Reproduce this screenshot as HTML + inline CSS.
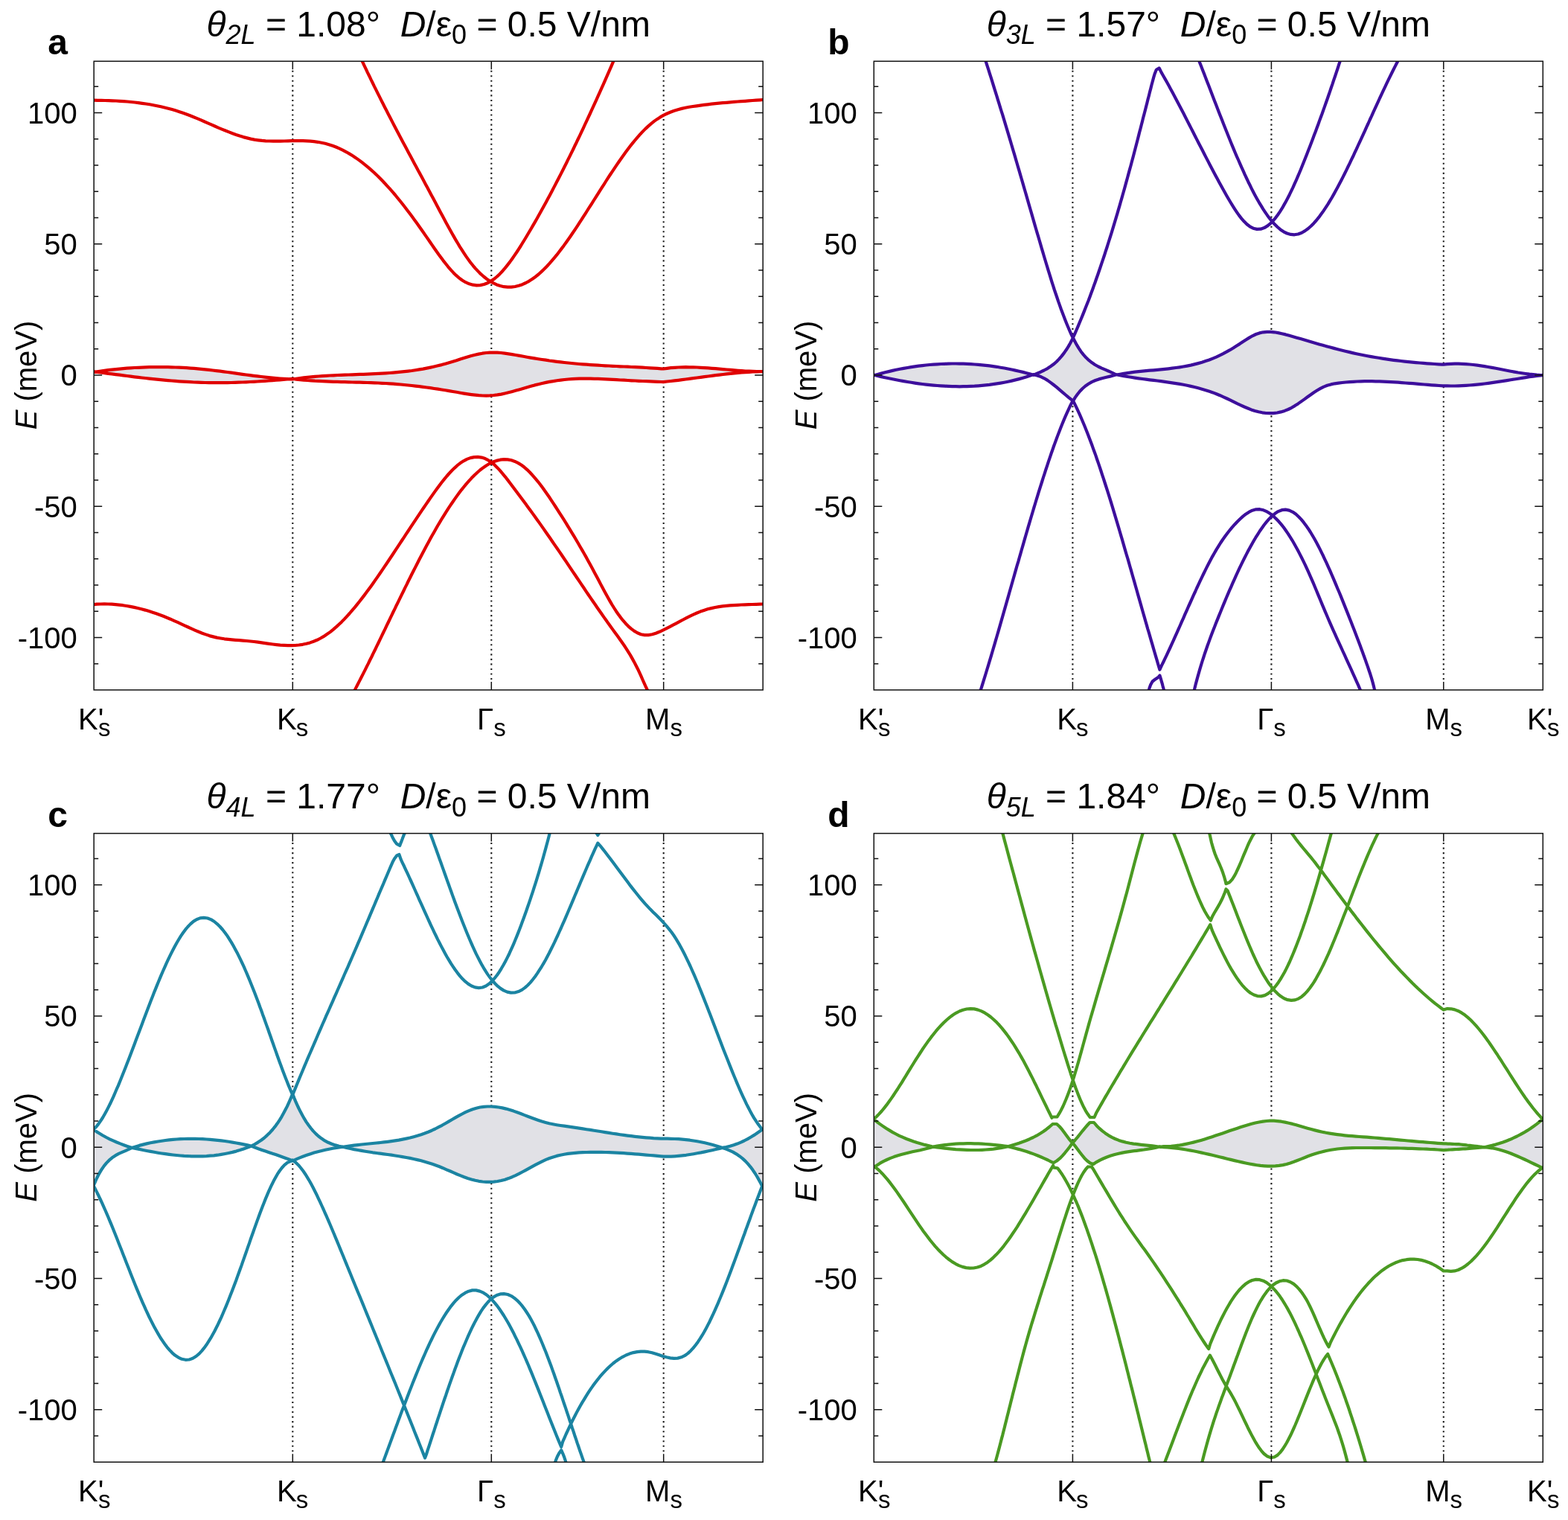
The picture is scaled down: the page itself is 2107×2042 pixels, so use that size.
<!DOCTYPE html>
<html><head><meta charset="utf-8"><title>Band structures</title>
<style>
html,body{margin:0;padding:0;background:#fff;}
body{width:2107px;height:2042px;overflow:hidden;}
svg{display:block;}
text{font-family:"Liberation Sans",Arial,sans-serif;fill:#000;}
.tl{font-size:40px;}
.tt{font-size:48px;}
.pl{font-size:48px;font-weight:bold;}
.xl{font-size:40px;}
</style></head><body>
<svg xmlns="http://www.w3.org/2000/svg" width="2107" height="2042" viewBox="0 0 2107 2042">
<rect width="2107" height="2042" fill="#fff"/>

<g>
<clipPath id="clipa"><rect x="126.2" y="82.3" width="899" height="844.6"/></clipPath>
<line x1="393.3" y1="94.7" x2="393.3" y2="915.9" stroke="#1a1a1a" stroke-width="2.1" stroke-dasharray="2.1 4.43"/>
<line x1="660.3" y1="94.7" x2="660.3" y2="915.9" stroke="#1a1a1a" stroke-width="2.1" stroke-dasharray="2.1 4.43"/>
<line x1="891.7" y1="94.7" x2="891.7" y2="915.9" stroke="#1a1a1a" stroke-width="2.1" stroke-dasharray="2.1 4.43"/>
<path d="M125.5 500L130.5 499.2L135.5 498.5L140.5 497.8L145.5 497.2L150.5 496.6L155.6 496.1L160.6 495.6L165.6 495.1L170.6 494.7L175.6 494.4L180.6 494L185.6 493.8L190.6 493.6L195.6 493.4L200.6 493.2L205.6 493.1L210.6 493.1L215.7 493.1L220.7 493.1L225.7 493.2L230.7 493.3L235.7 493.5L240.7 493.7L245.7 493.9L250.7 494.2L255.7 494.6L260.7 494.9L265.7 495.4L270.7 495.8L275.8 496.3L280.8 496.9L285.8 497.5L290.8 498.1L295.8 498.7L300.8 499.4L305.8 500L310.8 500.7L315.8 501.4L320.8 502.1L325.8 502.8L330.8 503.5L335.9 504.1L340.9 504.8L345.9 505.4L350.9 506L355.9 506.6L360.9 507.1L365.9 507.6L370.9 508.1L375.9 508.5L380.9 508.9L385.9 509.2L390.9 509.4L393.2 509.5L398.2 508.7L403.2 508L408.2 507.4L413.2 506.9L418.2 506.4L423.2 505.9L428.2 505.5L433.2 505.1L438.2 504.8L443.2 504.5L448.2 504.3L453.3 504L458.3 503.8L463.3 503.6L468.3 503.5L473.3 503.3L478.3 503.1L483.3 502.9L488.3 502.8L493.3 502.6L498.3 502.4L503.3 502.2L508.3 501.9L513.3 501.6L518.3 501.3L523.3 501L528.3 500.6L533.3 500.2L538.3 499.7L543.3 499.2L548.3 498.6L553.3 498L558.3 497.2L563.4 496.4L568.4 495.6L573.4 494.6L578.4 493.6L583.4 492.5L588.4 491.3L593.4 490.1L598.4 488.7L603.4 487.3L608.4 485.8L613.4 484.3L618.4 482.6L623.2 481.1L628.2 479.5L633.2 478L638.2 476.7L643.2 475.6L648.2 474.7L653.2 474L658.2 473.6L663.2 473.5L668.2 473.6L673.2 474L678.2 474.6L683.2 475.3L688.2 476.1L693.2 477L698.2 477.9L703.2 478.8L708.2 479.7L713.2 480.6L718.2 481.4L723.2 482.2L728.3 483L733.3 483.7L738.3 484.5L743.3 485.1L748.3 485.8L753.3 486.4L758.3 487L763.3 487.5L768.3 488L773.3 488.5L778.3 489L783.3 489.4L788.3 489.7L793.3 490.1L798.3 490.4L803.3 490.7L808.3 491L813.3 491.3L818.3 491.5L823.3 491.8L828.3 492L833.3 492.3L838.4 492.5L843.4 492.7L848.4 493L853.4 493.2L858.4 493.4L863.4 493.7L868.4 494L873.4 494.3L878.4 494.6L883.4 494.9L888.4 495.3L891.4 495.5L896.4 494.8L901.4 494.2L906.4 493.8L911.5 493.5L916.5 493.3L921.5 493.2L926.5 493.3L931.5 493.4L936.5 493.5L941.5 493.8L946.5 494.1L951.6 494.4L956.6 494.8L961.6 495.2L966.6 495.6L971.6 496.1L976.6 496.5L981.6 496.9L986.6 497.4L991.7 497.8L996.7 498.1L1001.7 498.5L1006.7 498.7L1011.7 498.9L1016.7 499.1L1021.7 499.1L1025.5 499.1L1025.5 499.1L1021.7 499.1L1016.7 499.3L1011.7 499.5L1006.7 499.8L1001.7 500.1L996.7 500.5L991.7 500.9L986.6 501.4L981.6 501.9L976.6 502.4L971.6 503L966.6 503.6L961.6 504.2L956.6 504.8L951.6 505.5L946.5 506.1L941.5 506.8L936.5 507.5L931.5 508.2L926.5 508.8L921.5 509.5L916.5 510.1L911.5 510.8L906.4 511.4L901.4 512L896.4 512.5L891.4 513.1L888.6 513L883.6 512.8L878.6 512.6L873.6 512.4L868.6 512.2L863.6 512L858.6 511.8L853.6 511.5L848.6 511.3L843.6 511L838.6 510.7L833.6 510.5L828.6 510.2L823.6 509.9L818.6 509.6L813.6 509.3L808.6 509.1L803.6 508.9L798.6 508.8L793.6 508.6L788.6 508.6L783.6 508.6L778.5 508.7L773.5 508.9L768.5 509.2L763.5 509.5L758.5 510L753.5 510.6L748.5 511.3L743.5 512.1L738.5 512.9L733.5 513.9L728.5 515L723.5 516.2L718.5 517.4L713.5 518.8L708.5 520.2L703.5 521.7L698.5 523.2L693.5 524.6L688.5 526L683.5 527.3L678.5 528.5L673.5 529.6L668.4 530.4L663.4 531L658.4 531.4L653.4 531.6L648.4 531.5L643.4 531.2L638.4 530.7L633.4 530.1L628.4 529.4L623.4 528.6L618.4 527.7L613.4 526.8L608.4 526L603.4 525.1L598.4 524.3L593.4 523.5L588.4 522.7L583.4 522L578.4 521.2L573.4 520.5L568.4 519.8L563.4 519.2L558.3 518.6L553.3 518L548.3 517.5L543.3 517L538.3 516.5L533.3 516.1L528.3 515.7L523.3 515.3L518.3 515L513.3 514.8L508.3 514.5L503.3 514.3L498.3 514.2L493.3 514L488.3 513.8L483.3 513.7L478.3 513.6L473.3 513.5L468.3 513.3L463.3 513.2L458.3 513.1L453.3 512.9L448.2 512.8L443.2 512.6L438.2 512.4L433.2 512.2L428.2 511.9L423.2 511.7L418.2 511.3L413.2 511L408.2 510.6L403.2 510.1L398.2 509.6L393.2 508.8L390.9 509L385.9 509.5L380.9 509.9L375.9 510.3L370.9 510.7L365.9 511.1L360.9 511.5L355.9 511.8L350.9 512.2L345.9 512.5L340.9 512.8L335.9 513L330.8 513.3L325.8 513.5L320.8 513.7L315.8 513.8L310.8 514L305.8 514.1L300.8 514.1L295.8 514.2L290.8 514.2L285.8 514.2L280.8 514.1L275.8 514L270.7 513.9L265.7 513.7L260.7 513.5L255.7 513.2L250.7 512.9L245.7 512.6L240.7 512.3L235.7 511.9L230.7 511.5L225.7 511.1L220.7 510.6L215.7 510.1L210.6 509.6L205.6 509.1L200.6 508.6L195.6 508L190.6 507.5L185.6 506.9L180.6 506.3L175.6 505.6L170.6 505L165.6 504.4L160.6 503.7L155.6 503.1L150.5 502.4L145.5 501.8L140.5 501.1L135.5 500.4L130.5 499.8L125.5 499.1Z" fill="#e1e1e6" stroke="none" clip-path="url(#clipa)"/>
<path d="M126.1 134.7L131.1 134.8L136.1 134.8L141.1 135L146.1 135.1L151.1 135.3L156.1 135.5L161.1 135.8L166.1 136.2L171.1 136.5L176.1 137L181.1 137.5L186.1 138.1L191.1 138.8L196.1 139.5L201.1 140.3L206.1 141.2L211.1 142.2L216.2 143.3L221.2 144.5L226.2 145.7L231.2 147.1L236.2 148.6L241.2 150.2L245.9 151.8L250.7 153.5L255.4 155.3L260.2 157.2L264.9 159.1L269.7 161.2L274.4 163.2L279.2 165.3L283.9 167.4L288.7 169.5L293.4 171.6L298.2 173.6L303 175.5L307.7 177.4L312.5 179.3L317.2 181L322 182.6L327 184.1L332 185.4L337 186.6L342 187.6L347 188.3L352 188.9L357 189.3L362 189.5L367 189.6L372 189.6L377 189.6L382 189.5L387 189.4L392 189.2L397 189.2L402 189.1L407 189.2L412 189.4L417 189.7L422 190.2L427 190.8L432 191.7L437 192.8L442 194.2L446.8 195.7L451.5 197.5L456.3 199.6L461 201.9L465.5 204.3L470 206.9L474.3 209.5L478.6 212.4L482.8 215.4L486.8 218.4L490.8 221.6L494.8 224.9L498.8 228.4L502.6 231.8L506.3 235.3L510.1 239L513.8 242.8L517.3 246.5L520.8 250.3L524.3 254.2L527.8 258.2L531.1 262L534.3 266L537.6 270L540.8 274L544.1 278.2L547.3 282.4L550.6 286.8L553.6 290.8L556.6 294.9L559.6 299L562.6 303.2L565.6 307.5L568.6 311.7L571.6 316.1L574.6 320.4L577.6 324.8L580.6 329.1L583.6 333.5L586.6 337.7L589.6 342L592.6 346.1L595.6 350.1L598.9 354.3L602.1 358.3L605.6 362.4L609.1 366.2L612.9 369.9L616.9 373.3L621.1 376.5L625.6 379.2L630.4 381.3L635.4 382.7L640.4 383.4L645.4 383.1L650.4 382L655.2 380.2L659.7 377.8L663.9 374.8L667.9 371.5L671.7 367.9L675.2 364.2L678.7 360.1L681.9 356.1L685.2 351.9L688.2 347.7L691.2 343.4L694.2 339L696.9 334.8L699.7 330.5L702.4 326L705.2 321.5L707.9 317L710.7 312.3L713.4 307.7L716.2 302.9L718.7 298.6L721.2 294.2L723.7 289.8L726.2 285.3L728.7 280.8L731.2 276.2L733.7 271.7L736.2 267L738.7 262.4L741.2 257.7L743.7 252.9L746.2 248.1L748.7 243.3L751.2 238.5L753.7 233.6L756.2 228.7L758.7 223.7L761 219.2L763.2 214.7L765.5 210.1L767.7 205.6L770 201L772.2 196.3L774.5 191.7L776.7 187L779 182.3L781.2 177.6L783.5 172.8L785.7 168L788 163.2L790.2 158.4L792.5 153.5L794.7 148.6L797 143.7L799.2 138.8L801.5 133.8L803.7 128.9L806 123.9L808.2 118.9L810.5 113.8L812.7 108.8L815 103.7L817.2 98.6L819.5 93.4L821.7 88.3L823.7 83.7L825.7 79.1L826 78.5 M485 78.6L487.3 83.4L489.5 88.1L491.8 92.9L494 97.6L496.3 102.2L498.5 106.9L500.8 111.5L503 116.1L505.3 120.6L507.5 125.1L509.8 129.6L512 134.1L514.5 139L517 144L519.5 148.8L522 153.7L524.5 158.5L527 163.4L529.5 168.2L532 172.9L534.5 177.7L537 182.4L539.5 187.2L542 191.9L544.5 196.6L547 201.3L549.5 205.9L552 210.6L554.5 215.3L557 220L559.5 224.6L562 229.3L564.6 233.9L567.1 238.6L569.6 243.2L572.1 247.9L574.6 252.6L577.1 257.3L579.6 261.9L582.1 266.6L584.6 271.3L587.1 276L589.6 280.8L592.1 285.5L594.6 290.1L597.1 294.8L599.6 299.4L602.1 304L604.6 308.5L607.1 313L609.6 317.4L612.3 322.1L615.1 326.8L617.8 331.3L620.6 335.7L623.3 339.9L626.3 344.4L629.3 348.6L632.3 352.7L635.6 356.8L638.8 360.6L642.4 364.4L646.1 368.2L649.9 371.5L653.9 374.7L658.1 377.6L662.6 380.2L667.4 382.4L672.1 384L677.1 385.2L682.1 385.7L687.1 385.6L692.1 385L697.1 383.8L701.9 382.2L706.6 380L711.1 377.6L715.4 374.8L719.7 371.7L723.7 368.5L727.4 365.1L731.2 361.5L734.7 358L738.2 354.2L741.7 350.2L744.9 346.4L748.2 342.4L751.4 338.2L754.7 333.9L757.7 329.9L760.7 325.7L763.7 321.5L766.7 317.2L769.7 312.8L772.7 308.3L775.7 303.8L778.4 299.6L781.2 295.4L783.9 291.1L786.7 286.8L789.4 282.5L792.2 278.2L795 273.8L797.7 269.5L800.5 265.1L803.2 260.8L806 256.4L808.7 252.1L811.5 247.8L814.2 243.5L817 239.2L819.7 235L822.5 230.8L825.5 226.3L828.5 221.9L831.5 217.5L834.5 213.2L837.5 209L840.5 204.8L843.5 200.8L846.7 196.6L850 192.4L853.2 188.5L856.5 184.6L860 180.7L863.5 176.9L867.2 173.1L871 169.6L875 166.1L879 162.9L883.3 159.9L887.5 157.2L892 154.7L896.5 152.5L901.3 150.5L906 148.7L911 147.2L916 145.9L921 144.8L926 143.8L931 143L936 142.3L941 141.6L946 140.9L951.1 140.3L956.1 139.7L961.1 139.2L966.1 138.7L971.1 138.2L976.1 137.8L981.1 137.3L986.1 136.9L991.1 136.5L996.1 136.1L1001.1 135.8L1006.1 135.4L1011.1 135L1016.1 134.7L1021.1 134.3L1025.1 134 M125.2 812.1L130.2 811.7L135.2 811.5L140.2 811.4L145.2 811.5L150.2 811.7L155.2 812.1L160.2 812.6L165.2 813.2L170.2 814L175.2 814.9L180.2 815.9L185.2 817L190.2 818.3L195.2 819.6L200.2 821.1L205.2 822.7L210 824.3L214.7 826L219.5 827.8L224.2 829.7L229 831.7L233.7 833.8L238.5 835.9L243.2 838.1L248 840.3L252.8 842.5L257.5 844.7L262.3 846.8L267 848.8L271.8 850.7L276.5 852.4L281.5 854.1L286.5 855.4L291.5 856.6L296.5 857.5L301.5 858.3L306.5 858.9L311.5 859.4L316.5 859.8L321.5 860.2L326.5 860.6L331.5 861L336.5 861.5L341.5 862L346.5 862.7L351.5 863.4L356.5 864.1L361.5 864.8L366.5 865.5L371.5 866.1L376.6 866.6L381.6 866.9L386.6 867.1L391.6 867.2L396.6 867L401.6 866.5L406.6 865.8L411.6 864.8L416.6 863.4L421.3 861.7L426.1 859.8L430.6 857.5L435.1 854.9L439.3 852.1L443.6 849.1L447.6 845.9L451.6 842.4L455.3 839L459.1 835.4L462.8 831.6L466.3 827.8L469.8 824L473.3 819.9L476.6 816.1L479.8 812.1L483.1 808L486.3 803.9L489.6 799.6L492.6 795.6L495.6 791.5L498.6 787.4L501.6 783.2L504.6 778.9L507.6 774.6L510.6 770.3L513.6 765.9L516.6 761.4L519.6 757L522.6 752.5L525.6 748L528.6 743.5L531.6 738.9L534.6 734.4L537.4 730.2L540.1 726L542.9 721.8L545.6 717.7L548.4 713.5L551.4 708.9L554.4 704.4L557.4 699.9L560.4 695.4L563.4 690.9L566.4 686.4L569.4 682L572.4 677.6L575.4 673.2L578.4 668.9L581.4 664.6L584.4 660.4L587.4 656.3L590.4 652.2L593.6 648L596.9 643.9L600.1 640L603.6 636L607.1 632.3L610.9 628.6L614.6 625.2L618.6 622.1L622.9 619.3L627.4 616.9L632.2 615.1L637.2 614.1L642.2 613.9L647.2 614.6L651.9 616.1L656.4 618.4L660.7 621.3L664.7 624.7L668.4 628.4L671.9 632.2L675.4 636.3L678.7 640.3L681.9 644.4L685.2 648.7L688.4 653L691.4 657.1L694.4 661.1L697.4 665.1L700.4 669.1L703.4 673.1L706.4 677.1L709.4 681.2L712.4 685.2L715.4 689.4L718.4 693.5L721.4 697.7L724.4 701.9L727.4 706.1L730.4 710.4L733.4 714.7L736.4 719L739.4 723.3L742.4 727.7L745.4 732.1L748.5 736.5L751.5 740.9L754.5 745.3L757.5 749.7L760.5 754.2L763.5 758.6L766.5 763.1L769.5 767.6L772.5 772L775.5 776.5L778.5 780.9L781.5 785.4L784.5 789.8L787.5 794.3L790.5 798.7L793.5 803.1L796.5 807.5L799.5 811.8L802.5 816.2L805.5 820.5L808.5 824.8L811.5 829.1L814.5 833.3L817.5 837.6L820.5 841.7L823.5 845.9L826.5 850L829.5 854.1L832.5 858.3L835.5 862.5L838.5 866.8L841.5 871.3L844.2 875.6L847 880.1L849.7 884.9L852.2 889.4L854.7 894.2L857 898.7L859.2 903.4L861.5 908.4L863.7 913.5L866 918.6L868.2 923.5L870.5 928.2L872 931.1 M475.5 929.4L478 924.6L480.5 919.8L483 914.9L485.5 910L488 905.1L490.3 900.6L492.5 896.1L494.8 891.6L497 887L499.3 882.5L501.5 877.9L503.8 873.3L506 868.6L508.3 864L510.5 859.4L512.8 854.7L515 850L517.3 845.4L519.5 840.7L521.8 836L524 831.4L526.3 826.7L528.5 822L530.8 817.4L533 812.7L535.3 808.1L537.6 803.4L539.8 798.8L542.1 794.2L544.3 789.6L546.6 785.1L548.8 780.5L551.1 776L553.3 771.5L555.6 767L558.1 762.1L560.6 757.2L563.1 752.3L565.6 747.5L568.1 742.7L570.6 738L573.1 733.3L575.6 728.7L578.1 724.1L580.6 719.6L583.1 715.2L585.6 710.8L588.3 706L591.1 701.4L593.8 696.8L596.6 692.3L599.4 687.9L602.1 683.6L604.9 679.4L607.9 675L610.9 670.6L613.9 666.4L616.9 662.3L620.1 658.1L623.4 654L626.6 650.1L630.1 646.1L633.6 642.3L637.4 638.5L641.1 635L645.1 631.5L649.1 628.4L653.4 625.5L657.9 622.8L662.4 620.6L667.2 618.9L672.2 617.7L677.2 617.2L682.2 617.4L687.2 618.3L691.9 619.9L696.4 622.1L700.7 624.8L704.7 627.8L708.7 631.3L712.4 635L715.9 638.8L719.4 642.9L722.7 646.8L726 651L729 655L732 659.2L735 663.5L738 667.8L741 672.3L744 676.8L746.7 681L749.5 685.3L752.2 689.6L755 693.9L757.7 698.2L760.5 702.6L763.2 707.1L766 711.6L768.7 716.1L771.5 720.7L774.2 725.3L777 730L779.7 734.7L782.3 739.1L784.8 743.5L787.3 747.9L789.8 752.4L792.3 757L794.8 761.5L797.3 766.2L799.8 770.9L802.3 775.6L804.8 780.3L807.3 785.1L809.8 789.8L812.3 794.4L814.8 799L817.3 803.5L819.8 807.9L822.5 812.5L825.3 817L828 821.2L831 825.5L834 829.6L837.3 833.7L840.8 837.7L844.3 841.3L848.1 844.6L852.1 847.6L856.6 850.3L861.3 852.2L866.3 853.1L871.3 853.1L876.3 852.3L881.3 850.7L886.1 848.8L890.8 846.6L895.3 844.4L899.8 842.1L904.4 839.7L908.9 837.3L913.4 834.9L917.9 832.5L922.4 830.1L926.9 827.9L931.6 825.6L936.4 823.5L941.1 821.6L945.9 819.9L950.9 818.3L955.9 817.1L960.9 816L965.9 815.1L970.9 814.4L975.9 813.9L980.9 813.4L985.9 813.1L990.9 812.8L995.9 812.5L1000.9 812.4L1005.9 812.2L1010.9 812L1015.9 811.9L1020.9 811.7L1025.7 811.5 M125.5 500L130.5 499.2L135.5 498.5L140.5 497.8L145.5 497.2L150.5 496.6L155.6 496.1L160.6 495.6L165.6 495.1L170.6 494.7L175.6 494.4L180.6 494L185.6 493.8L190.6 493.6L195.6 493.4L200.6 493.2L205.6 493.1L210.6 493.1L215.7 493.1L220.7 493.1L225.7 493.2L230.7 493.3L235.7 493.5L240.7 493.7L245.7 493.9L250.7 494.2L255.7 494.6L260.7 494.9L265.7 495.4L270.7 495.8L275.8 496.3L280.8 496.9L285.8 497.5L290.8 498.1L295.8 498.7L300.8 499.4L305.8 500L310.8 500.7L315.8 501.4L320.8 502.1L325.8 502.8L330.8 503.5L335.9 504.1L340.9 504.8L345.9 505.4L350.9 506L355.9 506.6L360.9 507.1L365.9 507.6L370.9 508.1L375.9 508.5L380.9 508.9L385.9 509.2L390.9 509.4L393.2 509.5L398.2 508.7L403.2 508L408.2 507.4L413.2 506.9L418.2 506.4L423.2 505.9L428.2 505.5L433.2 505.1L438.2 504.8L443.2 504.5L448.2 504.3L453.3 504L458.3 503.8L463.3 503.6L468.3 503.5L473.3 503.3L478.3 503.1L483.3 502.9L488.3 502.8L493.3 502.6L498.3 502.4L503.3 502.2L508.3 501.9L513.3 501.6L518.3 501.3L523.3 501L528.3 500.6L533.3 500.2L538.3 499.7L543.3 499.2L548.3 498.6L553.3 498L558.3 497.2L563.4 496.4L568.4 495.6L573.4 494.6L578.4 493.6L583.4 492.5L588.4 491.3L593.4 490.1L598.4 488.7L603.4 487.3L608.4 485.8L613.4 484.3L618.4 482.6L623.2 481.1L628.2 479.5L633.2 478L638.2 476.7L643.2 475.6L648.2 474.7L653.2 474L658.2 473.6L663.2 473.5L668.2 473.6L673.2 474L678.2 474.6L683.2 475.3L688.2 476.1L693.2 477L698.2 477.9L703.2 478.8L708.2 479.7L713.2 480.6L718.2 481.4L723.2 482.2L728.3 483L733.3 483.7L738.3 484.5L743.3 485.1L748.3 485.8L753.3 486.4L758.3 487L763.3 487.5L768.3 488L773.3 488.5L778.3 489L783.3 489.4L788.3 489.7L793.3 490.1L798.3 490.4L803.3 490.7L808.3 491L813.3 491.3L818.3 491.5L823.3 491.8L828.3 492L833.3 492.3L838.4 492.5L843.4 492.7L848.4 493L853.4 493.2L858.4 493.4L863.4 493.7L868.4 494L873.4 494.3L878.4 494.6L883.4 494.9L888.4 495.3L891.4 495.5L896.4 494.8L901.4 494.2L906.4 493.8L911.5 493.5L916.5 493.3L921.5 493.2L926.5 493.3L931.5 493.4L936.5 493.5L941.5 493.8L946.5 494.1L951.6 494.4L956.6 494.8L961.6 495.2L966.6 495.6L971.6 496.1L976.6 496.5L981.6 496.9L986.6 497.4L991.7 497.8L996.7 498.1L1001.7 498.5L1006.7 498.7L1011.7 498.9L1016.7 499.1L1021.7 499.1L1025.5 499.1 M125.5 499.1L130.5 499.8L135.5 500.4L140.5 501.1L145.5 501.8L150.5 502.4L155.6 503.1L160.6 503.7L165.6 504.4L170.6 505L175.6 505.6L180.6 506.3L185.6 506.9L190.6 507.5L195.6 508L200.6 508.6L205.6 509.1L210.6 509.6L215.7 510.1L220.7 510.6L225.7 511.1L230.7 511.5L235.7 511.9L240.7 512.3L245.7 512.6L250.7 512.9L255.7 513.2L260.7 513.5L265.7 513.7L270.7 513.9L275.8 514L280.8 514.1L285.8 514.2L290.8 514.2L295.8 514.2L300.8 514.1L305.8 514.1L310.8 514L315.8 513.8L320.8 513.7L325.8 513.5L330.8 513.3L335.9 513L340.9 512.8L345.9 512.5L350.9 512.2L355.9 511.8L360.9 511.5L365.9 511.1L370.9 510.7L375.9 510.3L380.9 509.9L385.9 509.5L390.9 509L393.2 508.8L398.2 509.6L403.2 510.1L408.2 510.6L413.2 511L418.2 511.3L423.2 511.7L428.2 511.9L433.2 512.2L438.2 512.4L443.2 512.6L448.2 512.8L453.3 512.9L458.3 513.1L463.3 513.2L468.3 513.3L473.3 513.5L478.3 513.6L483.3 513.7L488.3 513.8L493.3 514L498.3 514.2L503.3 514.3L508.3 514.5L513.3 514.8L518.3 515L523.3 515.3L528.3 515.7L533.3 516.1L538.3 516.5L543.3 517L548.3 517.5L553.3 518L558.3 518.6L563.4 519.2L568.4 519.8L573.4 520.5L578.4 521.2L583.4 522L588.4 522.7L593.4 523.5L598.4 524.3L603.4 525.1L608.4 526L613.4 526.8L618.4 527.7L623.4 528.6L628.4 529.4L633.4 530.1L638.4 530.7L643.4 531.2L648.4 531.5L653.4 531.6L658.4 531.4L663.4 531L668.4 530.4L673.5 529.6L678.5 528.5L683.5 527.3L688.5 526L693.5 524.6L698.5 523.2L703.5 521.7L708.5 520.2L713.5 518.8L718.5 517.4L723.5 516.2L728.5 515L733.5 513.9L738.5 512.9L743.5 512.1L748.5 511.3L753.5 510.6L758.5 510L763.5 509.5L768.5 509.2L773.5 508.9L778.5 508.7L783.6 508.6L788.6 508.6L793.6 508.6L798.6 508.8L803.6 508.9L808.6 509.1L813.6 509.3L818.6 509.6L823.6 509.9L828.6 510.2L833.6 510.5L838.6 510.7L843.6 511L848.6 511.3L853.6 511.5L858.6 511.8L863.6 512L868.6 512.2L873.6 512.4L878.6 512.6L883.6 512.8L888.6 513L891.4 513.1L896.4 512.5L901.4 512L906.4 511.4L911.5 510.8L916.5 510.1L921.5 509.5L926.5 508.8L931.5 508.2L936.5 507.5L941.5 506.8L946.5 506.1L951.6 505.5L956.6 504.8L961.6 504.2L966.6 503.6L971.6 503L976.6 502.4L981.6 501.9L986.6 501.4L991.7 500.9L996.7 500.5L1001.7 500.1L1006.7 499.8L1011.7 499.5L1016.7 499.3L1021.7 499.1L1025.5 499.1" fill="none" stroke="#e00000" stroke-width="4.2" stroke-linejoin="round" stroke-linecap="round" clip-path="url(#clipa)"/>
<rect x="126.2" y="82.3" width="899" height="844.6" fill="none" stroke="#111" stroke-width="1.5"/>
<path d="M126.2 891.8h6M1025.2 891.8h-6M126.2 856.5h11M1025.2 856.5h-11M126.2 821.3h6M1025.2 821.3h-6M126.2 786h6M1025.2 786h-6M126.2 750.8h6M1025.2 750.8h-6M126.2 715.5h6M1025.2 715.5h-6M126.2 680.3h11M1025.2 680.3h-11M126.2 645h6M1025.2 645h-6M126.2 609.8h6M1025.2 609.8h-6M126.2 574.5h6M1025.2 574.5h-6M126.2 539.3h6M1025.2 539.3h-6M126.2 504h11M1025.2 504h-11M126.2 468.7h6M1025.2 468.7h-6M126.2 433.5h6M1025.2 433.5h-6M126.2 398.2h6M1025.2 398.2h-6M126.2 363h6M1025.2 363h-6M126.2 327.7h11M1025.2 327.7h-11M126.2 292.5h6M1025.2 292.5h-6M126.2 257.2h6M1025.2 257.2h-6M126.2 222h6M1025.2 222h-6M126.2 186.7h6M1025.2 186.7h-6M126.2 151.4h11M1025.2 151.4h-11M126.2 116.2h6M1025.2 116.2h-6M393.3 82.3v11M393.3 926.9v-11M660.3 82.3v11M660.3 926.9v-11M891.7 82.3v11M891.7 926.9v-11" stroke="#111" stroke-width="1.5" fill="none"/>
<text class="tl" x="103.7" y="165.8" text-anchor="end">100</text>
<text class="tl" x="103.7" y="342" text-anchor="end">50</text>
<text class="tl" x="103.7" y="518.3" text-anchor="end">0</text>
<text class="tl" x="103.7" y="694.6" text-anchor="end">-50</text>
<text class="tl" x="103.7" y="870.8" text-anchor="end">-100</text>
<text class="tl" transform="translate(48.7 504) rotate(-90)" text-anchor="middle"><tspan font-style="italic">E</tspan> (meV)</text>
<text class="xl" x="105" y="979.6">K'<tspan font-size="33" dy="9" dx="-7.4">s</tspan></text>
<text class="xl" x="372.1" y="979.6">K<tspan font-size="33" dy="9" dx="-1">s</tspan></text>
<text class="xl" x="641.1" y="979.6">Γ<tspan font-size="33" dy="9" dx="0">s</tspan></text>
<text class="xl" x="867.1" y="979.6">M<tspan font-size="33" dy="9" dx="0">s</tspan></text>
<text class="pl" x="64.2" y="73.3">a</text>
<text class="tt" x="575.7" y="48.5" text-anchor="middle"><tspan font-style="italic">θ</tspan><tspan font-style="italic" font-size="36" dy="10.7">2L</tspan><tspan dy="-10.7"> = 1.08°  </tspan><tspan font-style="italic">D</tspan>/ε<tspan font-size="36" dy="10.7">0</tspan><tspan dy="-10.7"> = 0.5 V/nm</tspan></text>
</g>
<g>
<clipPath id="clipb"><rect x="1174.3" y="82.3" width="899" height="844.6"/></clipPath>
<line x1="1441.4" y1="94.7" x2="1441.4" y2="915.9" stroke="#1a1a1a" stroke-width="2.1" stroke-dasharray="2.1 4.43"/>
<line x1="1708.4" y1="94.7" x2="1708.4" y2="915.9" stroke="#1a1a1a" stroke-width="2.1" stroke-dasharray="2.1 4.43"/>
<line x1="1939.8" y1="94.7" x2="1939.8" y2="915.9" stroke="#1a1a1a" stroke-width="2.1" stroke-dasharray="2.1 4.43"/>
<path d="M1174.3 504.3L1179.3 502.9L1184.3 501.6L1189.3 500.3L1194.3 499.1L1199.3 497.9L1204.3 496.8L1209.3 495.8L1214.3 494.9L1219.4 494L1224.4 493.1L1229.4 492.4L1234.4 491.7L1239.4 491.1L1244.4 490.5L1249.4 490L1254.4 489.6L1259.4 489.3L1264.4 489L1269.4 488.8L1274.4 488.6L1279.4 488.5L1284.4 488.5L1289.4 488.6L1294.4 488.7L1299.4 488.9L1304.5 489.1L1309.5 489.5L1314.5 489.8L1319.5 490.3L1324.5 490.8L1329.5 491.4L1334.5 492.1L1339.5 492.8L1344.5 493.7L1349.5 494.5L1354.5 495.5L1359.5 496.5L1364.5 497.6L1369.5 498.7L1374.5 499.9L1379.5 501.2L1384.5 502.6L1388.8 503.8L1393.6 501.6L1398.4 499.7L1402.9 497.5L1407.5 495.1L1411.7 492.3L1415.8 489.3L1419.6 486L1423.1 482.4L1426.6 478.4L1429.9 474.1L1432.9 469.8L1435.7 465.4L1438.2 461L1440.7 456.3L1442 453.8L1444.3 458.6L1446.8 463.2L1449.5 467.7L1452.5 472.2L1455.8 476.4L1459.3 480.3L1463.1 483.9L1467.1 487.1L1471.4 490L1475.9 492.5L1480.4 494.6L1485.2 496.7L1490 498.7L1494.7 500.8L1499.2 503.1L1500 503.5L1505 502.7L1510 501.8L1515 501.1L1520 500.4L1525 499.7L1530 499.2L1535 498.7L1540 498.2L1545 497.7L1550.1 497.3L1555.1 496.8L1560.1 496.3L1565.1 495.8L1570.1 495.3L1575.1 494.7L1580.1 494L1585.1 493.3L1590.1 492.5L1595.1 491.6L1600.1 490.6L1605.1 489.4L1610.1 488.1L1615.1 486.7L1620.1 485.1L1624.9 483.5L1629.6 481.6L1634.4 479.6L1639.1 477.4L1643.6 475.2L1648.2 472.7L1652.7 470.2L1657.2 467.5L1661.4 464.8L1665.7 462.1L1669.9 459.3L1674.2 456.5L1678.4 453.9L1682.9 451.3L1687.7 449L1692.4 447.4L1697.5 446.3L1702.5 445.8L1707.5 445.9L1712.5 446.3L1717.5 447.1L1722.5 448.2L1727.5 449.4L1732.5 450.8L1737.5 452.2L1742.5 453.7L1747.5 455.1L1752.5 456.6L1757.5 458L1762.5 459.5L1767.5 460.9L1772.5 462.4L1777.5 463.8L1782.5 465.2L1787.5 466.6L1792.5 467.9L1797.6 469.2L1802.6 470.5L1807.6 471.7L1812.6 472.9L1817.6 474.1L1822.6 475.2L1827.6 476.2L1832.6 477.2L1837.6 478.2L1842.6 479.1L1847.6 480L1852.6 480.8L1857.6 481.6L1862.6 482.4L1867.6 483.1L1872.6 483.8L1877.6 484.4L1882.6 485L1887.6 485.6L1892.7 486.1L1897.7 486.6L1902.7 487.1L1907.7 487.5L1912.7 487.9L1917.7 488.3L1922.7 488.6L1927.7 489L1932.7 489.3L1937.7 489.6L1939.7 489.7L1944.7 489.2L1949.7 488.9L1954.8 488.7L1959.8 488.7L1964.8 488.8L1969.8 489.1L1974.8 489.5L1979.8 490L1984.9 490.6L1989.9 491.3L1994.9 492.1L1999.9 493L2004.9 493.9L2009.9 494.8L2015 495.8L2020 496.8L2025 497.7L2030 498.7L2035 499.6L2040 500.5L2045.1 501.3L2050.1 502L2055.1 502.7L2060.1 503.2L2065.1 503.7L2070.1 504L2073.9 504.2L2073.9 503.8L2070.1 504.3L2065.1 504.9L2060.1 505.6L2055.1 506.3L2050.1 507.1L2045.1 507.9L2040 508.7L2035 509.5L2030 510.3L2025 511.1L2020 511.9L2015 512.6L2009.9 513.4L2004.9 514.1L1999.9 514.8L1994.9 515.5L1989.9 516.1L1984.9 516.6L1979.8 517.1L1974.8 517.5L1969.8 517.9L1964.8 518.2L1959.8 518.4L1954.8 518.5L1949.7 518.5L1944.7 518.4L1939.7 518.4L1938.7 518.3L1933.7 518L1928.7 517.6L1923.7 517.3L1918.7 516.9L1913.7 516.5L1908.7 516.1L1903.7 515.7L1898.7 515.2L1893.7 514.8L1888.6 514.5L1883.6 514.1L1878.6 513.7L1873.6 513.4L1868.6 513.1L1863.6 512.8L1858.6 512.6L1853.6 512.4L1848.6 512.3L1843.6 512.2L1838.6 512.2L1833.6 512.2L1828.6 512.3L1823.6 512.5L1818.6 512.8L1813.6 513.1L1808.6 513.5L1803.6 514L1798.6 514.6L1793.6 515.3L1788.5 516.4L1783.5 517.8L1778.8 519.6L1774.3 521.9L1769.8 524.5L1765.5 527.2L1761.3 530.2L1757 533.3L1752.8 536.4L1748.5 539.4L1744.2 542.4L1740 545.1L1735.5 547.8L1731 550L1726.2 551.9L1721.2 553.4L1716.2 554.5L1711.2 555.1L1706.2 555.2L1701.2 555L1696.2 554.3L1691.2 553.3L1686.2 552L1681.4 550.4L1676.7 548.5L1671.9 546.5L1667.2 544.3L1662.4 542.1L1657.9 539.9L1653.4 537.6L1648.9 535.5L1644.1 533.3L1639.4 531.2L1634.6 529.2L1629.9 527.4L1625.1 525.8L1620.1 524.2L1615.1 522.7L1610.1 521.3L1605.1 520L1600.1 518.9L1595.1 517.8L1590.1 516.8L1585.1 515.9L1580.1 515.1L1575.1 514.3L1570.1 513.6L1565.1 512.9L1560.1 512.2L1555.1 511.5L1550.1 510.9L1545 510.3L1540 509.6L1535 509L1530 508.3L1525 507.6L1520 506.8L1515 506L1510 505.1L1505 504.2L1500 503.2L1496.7 504.3L1491.7 505.6L1486.7 506.8L1481.7 508L1476.6 509.4L1471.9 511L1467.1 513.1L1462.6 515.7L1458.3 518.7L1454.6 522L1451 525.7L1447.8 529.7L1444.8 533.9L1442 538.7L1440 537.1L1435.9 533.9L1431.9 530.5L1427.9 527.1L1423.8 523.6L1419.8 520.2L1415.8 517L1411.7 513.9L1407.5 510.9L1403.2 508.3L1398.6 506.1L1393.8 504.4L1388.8 503.1L1384.5 504.6L1379.5 506.2L1374.5 507.7L1369.5 509.1L1364.5 510.4L1359.5 511.6L1354.5 512.7L1349.5 513.7L1344.5 514.6L1339.5 515.4L1334.5 516.2L1329.5 516.9L1324.5 517.4L1319.5 517.9L1314.5 518.3L1309.5 518.7L1304.5 518.9L1299.4 519.1L1294.4 519.2L1289.4 519.3L1284.4 519.2L1279.4 519.1L1274.4 518.9L1269.4 518.7L1264.4 518.4L1259.4 518L1254.4 517.6L1249.4 517.1L1244.4 516.6L1239.4 516L1234.4 515.3L1229.4 514.6L1224.4 513.8L1219.4 513L1214.3 512.1L1209.3 511.2L1204.3 510.3L1199.3 509.3L1194.3 508.2L1189.3 507.2L1184.3 506.1L1179.3 504.9L1174.3 503.7Z" fill="#e1e1e6" stroke="none" clip-path="url(#clipb)"/>
<path d="M1323 77.5L1324.8 82.8L1326.5 88.2L1328.3 93.7L1330 99.2L1331.8 104.7L1333.5 110.2L1335 115L1336.5 119.8L1338 124.6L1339.5 129.4L1341 134.3L1342.5 139.2L1344 144.1L1345.5 149L1347.1 153.9L1348.6 158.9L1350.1 163.8L1351.6 168.8L1353.1 173.8L1354.6 178.8L1356.1 183.9L1357.6 188.9L1359.1 194L1360.6 199.1L1362.1 204.1L1363.6 209.2L1365.1 214.3L1366.6 219.5L1368.1 224.6L1369.6 229.7L1371.1 234.9L1372.6 240L1374.1 245.2L1375.6 250.4L1377.1 255.5L1378.6 260.7L1380.1 265.9L1381.6 271.1L1383.1 276.3L1384.6 281.5L1386.1 286.7L1387.6 291.9L1389.1 297.1L1390.6 302.3L1392.1 307.5L1393.6 312.7L1395.2 317.9L1396.7 323L1398.2 328.2L1399.7 333.3L1401.2 338.4L1402.7 343.5L1404.2 348.5L1405.7 353.5L1407.2 358.4L1408.7 363.4L1410.2 368.2L1411.7 373L1413.4 378.6L1415.2 384.1L1416.9 389.5L1418.7 394.8L1420.5 400L1422.2 405.1L1424 410.1L1425.7 415L1427.5 419.8L1429.5 425.1L1431.5 430.3L1433.5 435.2L1435.5 440L1437.5 444.6L1439.7 449.6L1442 454.3 M1442 453.4L1444.3 448.4L1446.5 443.2L1448.5 438.6L1450.5 433.8L1452.5 429L1454.5 424.1L1456.5 419.1L1458.5 414L1460.5 408.9L1462.6 403.7L1464.6 398.4L1466.3 393.7L1468.1 388.9L1469.8 384.1L1471.6 379.2L1473.3 374.2L1475.1 369.2L1476.8 364.2L1478.6 359L1480.3 353.8L1482.1 348.6L1483.9 343.3L1485.6 337.9L1487.4 332.5L1489.1 327L1490.9 321.4L1492.4 316.6L1493.9 311.8L1495.4 306.9L1496.9 301.9L1498.4 296.9L1499.9 291.9L1501.4 286.8L1502.9 281.7L1504.4 276.6L1505.9 271.3L1507.4 266.1L1508.9 260.8L1510.4 255.5L1511.9 250.1L1513.4 244.6L1514.9 239.2L1516.4 233.6L1517.9 228.1L1519.5 222.5L1521 216.8L1522.5 211.2L1524 205.5L1525.5 199.8L1527 194L1528.5 188.2L1530 182.4L1531.2 177.6L1532.5 172.7L1533.7 167.9L1535 163L1536.2 158.1L1537.5 153.2L1538.8 148.3L1540 143.4L1541.3 138.5L1542.5 133.6L1543.8 128.7L1545 123.8L1546.3 118.9L1547.5 114L1548.8 109.2L1550.3 103.6L1551.8 98.7L1553.8 93.7L1557.5 91.5L1557.8 91.8L1560.6 97.4L1563.1 101.7L1565.6 106.1L1568.1 110.6L1570.6 115.1L1573.1 119.7L1575.6 124.3L1578.1 128.9L1580.6 133.7L1583.1 138.4L1585.6 143.2L1588.1 148L1590.6 152.8L1593.1 157.7L1595.6 162.6L1598.1 167.5L1600.6 172.4L1603.1 177.3L1605.6 182.2L1608.1 187.1L1610.6 192L1613.2 196.9L1615.7 201.8L1618.2 206.7L1620.7 211.6L1623.2 216.4L1625.7 221.2L1628.2 226L1630.7 230.7L1633.2 235.4L1635.7 240.1L1638.2 244.7L1640.7 249.3L1643.2 253.8L1645.7 258.3L1648.2 262.7L1650.7 267L1653.5 271.7L1656.2 276.2L1659 280.6L1662 285.1L1665 289.4L1668.3 293.6L1671.8 297.6L1675.5 301.3L1679.5 304.3L1684 306.7L1689 307.9L1694.1 307.7L1698.8 306.1L1703.3 303.4L1707.3 300.1L1710.8 296.5L1714.1 292.6L1717.1 288.5L1720.1 284.1L1722.9 279.7L1725.6 274.9L1728.1 270.4L1730.6 265.7L1732.9 261.2L1735.1 256.6L1737.4 251.8L1739.6 246.8L1741.9 241.8L1743.9 237.2L1745.9 232.5L1747.9 227.7L1749.9 222.8L1751.9 217.8L1753.9 212.8L1755.9 207.7L1757.9 202.6L1759.9 197.4L1761.9 192.2L1763.9 186.9L1765.9 181.6L1767.7 176.9L1769.4 172.2L1771.2 167.4L1772.9 162.6L1774.7 157.8L1776.5 153L1778.2 148.1L1780 143.1L1781.7 138.2L1783.5 133.2L1785.2 128.2L1787 123.1L1788.7 118L1790.5 112.9L1792.2 107.7L1794 102.5L1795.7 97.3L1797.5 92L1799.2 86.7L1801 81.4L1802 78.3 M1610 78.6L1612 83.7L1614 88.8L1616 93.9L1618 99.1L1620 104.2L1622 109.4L1624 114.6L1626 119.8L1628 125L1630 130.2L1632 135.4L1634 140.5L1636 145.7L1638 150.9L1640 156L1642 161.1L1644 166.2L1646 171.3L1648 176.3L1650 181.3L1652 186.3L1654 191.2L1656 196.1L1658 200.9L1660 205.7L1662 210.4L1664.1 215L1666.1 219.6L1668.3 224.7L1670.6 229.7L1672.8 234.7L1675.1 239.5L1677.3 244.2L1679.6 248.8L1681.8 253.3L1684.3 258.2L1686.8 262.9L1689.3 267.4L1691.8 271.8L1694.6 276.4L1697.3 280.9L1700.1 285.1L1703.1 289.4L1706.1 293.4L1709.3 297.4L1712.8 301.3L1716.6 305L1720.6 308.4L1724.9 311.3L1729.4 313.5L1734.4 314.9L1739.4 315.3L1744.4 314.5L1749.1 312.7L1753.6 310.1L1757.9 307L1761.6 303.7L1765.4 299.9L1768.9 296L1772.2 291.9L1775.4 287.6L1778.4 283.4L1781.4 278.9L1784.2 274.6L1786.9 270.1L1789.7 265.5L1792.2 261.1L1794.7 256.6L1797.2 252L1799.7 247.3L1802.2 242.5L1804.7 237.6L1806.9 233.2L1809.2 228.6L1811.4 224L1813.7 219.4L1815.9 214.7L1818.2 210L1820.4 205.2L1822.7 200.4L1824.9 195.5L1827.2 190.6L1829.5 185.7L1831.7 180.8L1834 175.9L1836.2 170.9L1838.5 166L1840.7 161L1843 156.1L1845.2 151.1L1847.5 146.2L1849.7 141.3L1852 136.4L1854.2 131.5L1856.5 126.7L1858.7 121.9L1861 117.1L1863.2 112.4L1865.5 107.7L1867.7 103.1L1870 98.5L1872.2 94L1874.7 89.1L1877.2 84.3L1879.7 79.5L1880 79.1 M1317 929.3L1318.8 923.8L1320.3 919L1321.8 914.2L1323.3 909.4L1324.8 904.5L1326.3 899.5L1327.8 894.6L1329.3 889.6L1330.8 884.6L1332.3 879.6L1333.8 874.5L1335.3 869.4L1336.8 864.3L1338.3 859.1L1339.8 854L1341.3 848.8L1342.8 843.6L1344.3 838.4L1345.8 833.2L1347.3 827.9L1348.8 822.7L1350.3 817.4L1351.8 812.2L1353.3 806.9L1354.8 801.6L1356.3 796.3L1357.8 791L1359.3 785.7L1360.8 780.5L1362.3 775.2L1363.8 769.9L1365.3 764.6L1366.8 759.3L1368.4 754.1L1369.9 748.8L1371.4 743.6L1372.9 738.3L1374.4 733.1L1375.9 727.9L1377.4 722.7L1378.9 717.5L1380.4 712.4L1381.9 707.2L1383.4 702.1L1384.9 697L1386.4 692L1387.9 687L1389.4 681.9L1390.9 677L1392.4 672L1393.9 667.1L1395.4 662.2L1396.9 657.4L1398.4 652.6L1400.2 647L1401.9 641.5L1403.7 636.1L1405.4 630.7L1407.2 625.4L1408.9 620.1L1410.7 614.9L1412.4 609.8L1414.2 604.8L1415.9 599.8L1417.7 594.9L1419.5 590.1L1421.2 585.4L1423.2 580.2L1425.2 575L1427.2 570L1429.2 565.1L1431.2 560.4L1433.2 555.8L1435.5 550.8L1437.7 546L1440 541.5L1442 537.6 M1442 538.4L1444.5 543.4L1446.8 548.1L1449 552.9L1451.3 557.9L1453.3 562.5L1455.3 567.2L1457.3 572L1459.3 577L1461.3 582.1L1463.3 587.2L1465.3 592.5L1467.1 597.3L1468.8 602.1L1470.6 607L1472.4 611.9L1474.1 617L1475.9 622.1L1477.6 627.2L1479.4 632.5L1481.1 637.8L1482.9 643.1L1484.6 648.5L1486.4 654L1488.2 659.6L1489.7 664.3L1491.2 669.2L1492.7 674L1494.2 678.9L1495.7 683.8L1497.2 688.8L1498.7 693.8L1500.2 698.8L1501.7 703.8L1503.2 708.9L1504.7 714L1506.2 719.1L1507.7 724.2L1509.2 729.4L1510.7 734.6L1512.2 739.8L1513.7 745L1515.3 750.2L1516.8 755.4L1518.3 760.7L1519.8 765.9L1521.3 771.2L1522.8 776.5L1524.3 781.7L1525.8 787L1527.3 792.3L1528.8 797.6L1530.3 802.9L1531.8 808.1L1533.3 813.4L1534.8 818.7L1536.3 824L1537.8 829.2L1539.3 834.5L1540.8 839.7L1542.3 845L1543.9 850.2L1545.4 855.4L1546.9 860.6L1548.4 865.7L1549.9 870.9L1551.4 876L1552.9 881.1L1554.4 886.2L1555.9 891.3L1557.4 896.3L1558.4 899.6L1560.9 894.1L1563.2 889.5L1565.4 884.9L1567.7 880.2L1569.9 875.4L1572.2 870.5L1574.4 865.6L1576.7 860.7L1578.9 855.7L1581.2 850.6L1583.4 845.6L1585.7 840.5L1587.9 835.4L1590.2 830.3L1592.4 825.2L1594.7 820.1L1596.9 815L1599.2 810L1601.5 804.9L1603.7 799.9L1606 795L1608.2 790L1610.5 785.2L1612.7 780.4L1615 775.6L1617.2 771L1619.5 766.4L1621.7 761.9L1624.2 757L1626.7 752.3L1629.2 747.6L1631.7 743.2L1634.5 738.4L1637.3 733.9L1640 729.5L1643 725L1646 720.8L1649 716.7L1652.3 712.5L1655.5 708.6L1659 704.7L1662.5 701L1666.3 697.3L1670 693.9L1674 690.7L1678.3 687.9L1682.8 685.7L1687.8 684.3L1692.8 684.2L1697.8 685.3L1702.6 687.4L1706.8 690.1L1710.8 693.2L1714.6 696.7L1718.1 700.3L1721.6 704.4L1724.9 708.5L1727.9 712.7L1730.9 717.1L1733.6 721.3L1736.4 725.8L1739.1 730.5L1741.6 735L1744.1 739.6L1746.6 744.4L1749.1 749.3L1751.4 753.9L1753.7 758.6L1755.9 763.4L1758.2 768.4L1760.4 773.4L1762.7 778.6L1764.7 783.2L1766.7 788L1768.7 792.7L1770.7 797.6L1772.7 802.4L1774.7 807.2L1776.7 812.1L1778.7 816.9L1780.7 821.6L1782.7 826.3L1784.7 831L1786.7 835.6L1788.9 840.7L1791.2 845.8L1793.5 850.8L1795.7 855.8L1798 860.8L1800.2 865.7L1802.5 870.6L1804.7 875.5L1807 880.4L1809.2 885.3L1811.5 890.3L1813.7 895.2L1816 900.1L1818.2 905.1L1820.5 910.1L1822.7 915.1L1825 920.2L1827.2 925.3L1829 929.3 M1543 930L1544.3 925.1L1546.1 920L1548.6 915.5L1552.5 912.4L1556.9 909.4L1558.4 907.5L1560 912.5L1561.4 917.3L1562.7 922.3L1564.2 927.5L1565 930 M1604 930L1605.3 925L1606.5 920.1L1608 914.4L1609.5 908.9L1611 903.6L1612.5 898.4L1614 893.4L1615.5 888.5L1617.3 883L1619 877.7L1620.8 872.5L1622.5 867.5L1624.3 862.6L1626 857.9L1628 852.5L1630 847.3L1632 842.2L1634 837.1L1636 832.1L1638 827.1L1640 822.2L1642 817.3L1644 812.4L1646 807.6L1648 802.8L1650 798.1L1652 793.4L1654.1 788.8L1656.3 783.7L1658.6 778.6L1660.8 773.6L1663.1 768.7L1665.3 763.9L1667.6 759.2L1669.8 754.6L1672.1 750L1674.6 745.1L1677.1 740.3L1679.6 735.7L1682.1 731.2L1684.6 726.8L1687.3 722.2L1690.1 717.8L1692.8 713.5L1695.8 709.2L1698.8 705L1702.1 700.9L1705.6 696.9L1709.4 693.1L1713.4 689.8L1717.6 687.1L1722.4 685.2L1727.4 684.6L1732.4 685.6L1737.1 687.8L1741.4 690.8L1745.1 694.2L1748.6 697.9L1751.9 701.9L1754.9 705.9L1757.9 710.2L1760.7 714.5L1763.4 719L1766.2 723.8L1768.7 728.3L1771.2 733L1773.7 737.9L1775.9 742.4L1778.2 747L1780.4 751.8L1782.7 756.6L1784.9 761.6L1787.2 766.6L1789.4 771.8L1791.4 776.4L1793.4 781.1L1795.4 785.9L1797.4 790.7L1799.5 795.5L1801.5 800.4L1803.5 805.4L1805.5 810.4L1807.5 815.4L1809.5 820.4L1811.5 825.4L1813.5 830.5L1815.5 835.6L1817.5 840.7L1819.5 845.8L1821.5 851L1823.5 856.2L1825.5 861.4L1827.5 866.8L1829.2 871.5L1831 876.2L1832.7 881.1L1834.5 885.9L1836.2 890.9L1838 895.9L1839.7 901L1841.5 906.3L1843 911.2L1844.5 916.4L1846 922.1L1847.2 927.4L1848 930.8 M1174.3 504.3L1179.3 502.9L1184.3 501.6L1189.3 500.3L1194.3 499.1L1199.3 497.9L1204.3 496.8L1209.3 495.8L1214.3 494.9L1219.4 494L1224.4 493.1L1229.4 492.4L1234.4 491.7L1239.4 491.1L1244.4 490.5L1249.4 490L1254.4 489.6L1259.4 489.3L1264.4 489L1269.4 488.8L1274.4 488.6L1279.4 488.5L1284.4 488.5L1289.4 488.6L1294.4 488.7L1299.4 488.9L1304.5 489.1L1309.5 489.5L1314.5 489.8L1319.5 490.3L1324.5 490.8L1329.5 491.4L1334.5 492.1L1339.5 492.8L1344.5 493.7L1349.5 494.5L1354.5 495.5L1359.5 496.5L1364.5 497.6L1369.5 498.7L1374.5 499.9L1379.5 501.2L1384.5 502.6L1388.8 503.8L1393.6 501.6L1398.4 499.7L1402.9 497.5L1407.5 495.1L1411.7 492.3L1415.8 489.3L1419.6 486L1423.1 482.4L1426.6 478.4L1429.9 474.1L1432.9 469.8L1435.7 465.4L1438.2 461L1440.7 456.3L1442 453.8L1444.3 458.6L1446.8 463.2L1449.5 467.7L1452.5 472.2L1455.8 476.4L1459.3 480.3L1463.1 483.9L1467.1 487.1L1471.4 490L1475.9 492.5L1480.4 494.6L1485.2 496.7L1490 498.7L1494.7 500.8L1499.2 503.1L1500 503.5L1505 502.7L1510 501.8L1515 501.1L1520 500.4L1525 499.7L1530 499.2L1535 498.7L1540 498.2L1545 497.7L1550.1 497.3L1555.1 496.8L1560.1 496.3L1565.1 495.8L1570.1 495.3L1575.1 494.7L1580.1 494L1585.1 493.3L1590.1 492.5L1595.1 491.6L1600.1 490.6L1605.1 489.4L1610.1 488.1L1615.1 486.7L1620.1 485.1L1624.9 483.5L1629.6 481.6L1634.4 479.6L1639.1 477.4L1643.6 475.2L1648.2 472.7L1652.7 470.2L1657.2 467.5L1661.4 464.8L1665.7 462.1L1669.9 459.3L1674.2 456.5L1678.4 453.9L1682.9 451.3L1687.7 449L1692.4 447.4L1697.5 446.3L1702.5 445.8L1707.5 445.9L1712.5 446.3L1717.5 447.1L1722.5 448.2L1727.5 449.4L1732.5 450.8L1737.5 452.2L1742.5 453.7L1747.5 455.1L1752.5 456.6L1757.5 458L1762.5 459.5L1767.5 460.9L1772.5 462.4L1777.5 463.8L1782.5 465.2L1787.5 466.6L1792.5 467.9L1797.6 469.2L1802.6 470.5L1807.6 471.7L1812.6 472.9L1817.6 474.1L1822.6 475.2L1827.6 476.2L1832.6 477.2L1837.6 478.2L1842.6 479.1L1847.6 480L1852.6 480.8L1857.6 481.6L1862.6 482.4L1867.6 483.1L1872.6 483.8L1877.6 484.4L1882.6 485L1887.6 485.6L1892.7 486.1L1897.7 486.6L1902.7 487.1L1907.7 487.5L1912.7 487.9L1917.7 488.3L1922.7 488.6L1927.7 489L1932.7 489.3L1937.7 489.6L1939.7 489.7L1944.7 489.2L1949.7 488.9L1954.8 488.7L1959.8 488.7L1964.8 488.8L1969.8 489.1L1974.8 489.5L1979.8 490L1984.9 490.6L1989.9 491.3L1994.9 492.1L1999.9 493L2004.9 493.9L2009.9 494.8L2015 495.8L2020 496.8L2025 497.7L2030 498.7L2035 499.6L2040 500.5L2045.1 501.3L2050.1 502L2055.1 502.7L2060.1 503.2L2065.1 503.7L2070.1 504L2073.9 504.2 M1174.3 503.7L1179.3 504.9L1184.3 506.1L1189.3 507.2L1194.3 508.2L1199.3 509.3L1204.3 510.3L1209.3 511.2L1214.3 512.1L1219.4 513L1224.4 513.8L1229.4 514.6L1234.4 515.3L1239.4 516L1244.4 516.6L1249.4 517.1L1254.4 517.6L1259.4 518L1264.4 518.4L1269.4 518.7L1274.4 518.9L1279.4 519.1L1284.4 519.2L1289.4 519.3L1294.4 519.2L1299.4 519.1L1304.5 518.9L1309.5 518.7L1314.5 518.3L1319.5 517.9L1324.5 517.4L1329.5 516.9L1334.5 516.2L1339.5 515.4L1344.5 514.6L1349.5 513.7L1354.5 512.7L1359.5 511.6L1364.5 510.4L1369.5 509.1L1374.5 507.7L1379.5 506.2L1384.5 504.6L1388.8 503.1L1393.8 504.4L1398.6 506.1L1403.2 508.3L1407.5 510.9L1411.7 513.9L1415.8 517L1419.8 520.2L1423.8 523.6L1427.9 527.1L1431.9 530.5L1435.9 533.9L1440 537.1L1442 538.7L1444.8 533.9L1447.8 529.7L1451 525.7L1454.6 522L1458.3 518.7L1462.6 515.7L1467.1 513.1L1471.9 511L1476.6 509.4L1481.7 508L1486.7 506.8L1491.7 505.6L1496.7 504.3L1500 503.2L1505 504.2L1510 505.1L1515 506L1520 506.8L1525 507.6L1530 508.3L1535 509L1540 509.6L1545 510.3L1550.1 510.9L1555.1 511.5L1560.1 512.2L1565.1 512.9L1570.1 513.6L1575.1 514.3L1580.1 515.1L1585.1 515.9L1590.1 516.8L1595.1 517.8L1600.1 518.9L1605.1 520L1610.1 521.3L1615.1 522.7L1620.1 524.2L1625.1 525.8L1629.9 527.4L1634.6 529.2L1639.4 531.2L1644.1 533.3L1648.9 535.5L1653.4 537.6L1657.9 539.9L1662.4 542.1L1667.2 544.3L1671.9 546.5L1676.7 548.5L1681.4 550.4L1686.2 552L1691.2 553.3L1696.2 554.3L1701.2 555L1706.2 555.2L1711.2 555.1L1716.2 554.5L1721.2 553.4L1726.2 551.9L1731 550L1735.5 547.8L1740 545.1L1744.2 542.4L1748.5 539.4L1752.8 536.4L1757 533.3L1761.3 530.2L1765.5 527.2L1769.8 524.5L1774.3 521.9L1778.8 519.6L1783.5 517.8L1788.5 516.4L1793.6 515.3L1798.6 514.6L1803.6 514L1808.6 513.5L1813.6 513.1L1818.6 512.8L1823.6 512.5L1828.6 512.3L1833.6 512.2L1838.6 512.2L1843.6 512.2L1848.6 512.3L1853.6 512.4L1858.6 512.6L1863.6 512.8L1868.6 513.1L1873.6 513.4L1878.6 513.7L1883.6 514.1L1888.6 514.5L1893.7 514.8L1898.7 515.2L1903.7 515.7L1908.7 516.1L1913.7 516.5L1918.7 516.9L1923.7 517.3L1928.7 517.6L1933.7 518L1938.7 518.3L1939.7 518.4L1944.7 518.4L1949.7 518.5L1954.8 518.5L1959.8 518.4L1964.8 518.2L1969.8 517.9L1974.8 517.5L1979.8 517.1L1984.9 516.6L1989.9 516.1L1994.9 515.5L1999.9 514.8L2004.9 514.1L2009.9 513.4L2015 512.6L2020 511.9L2025 511.1L2030 510.3L2035 509.5L2040 508.7L2045.1 507.9L2050.1 507.1L2055.1 506.3L2060.1 505.6L2065.1 504.9L2070.1 504.3L2073.9 503.8" fill="none" stroke="#3d0f9c" stroke-width="4.2" stroke-linejoin="round" stroke-linecap="round" clip-path="url(#clipb)"/>
<rect x="1174.3" y="82.3" width="899" height="844.6" fill="none" stroke="#111" stroke-width="1.5"/>
<path d="M1174.3 891.8h6M2073.3 891.8h-6M1174.3 856.5h11M2073.3 856.5h-11M1174.3 821.3h6M2073.3 821.3h-6M1174.3 786h6M2073.3 786h-6M1174.3 750.8h6M2073.3 750.8h-6M1174.3 715.5h6M2073.3 715.5h-6M1174.3 680.3h11M2073.3 680.3h-11M1174.3 645h6M2073.3 645h-6M1174.3 609.8h6M2073.3 609.8h-6M1174.3 574.5h6M2073.3 574.5h-6M1174.3 539.3h6M2073.3 539.3h-6M1174.3 504h11M2073.3 504h-11M1174.3 468.7h6M2073.3 468.7h-6M1174.3 433.5h6M2073.3 433.5h-6M1174.3 398.2h6M2073.3 398.2h-6M1174.3 363h6M2073.3 363h-6M1174.3 327.7h11M2073.3 327.7h-11M1174.3 292.5h6M2073.3 292.5h-6M1174.3 257.2h6M2073.3 257.2h-6M1174.3 222h6M2073.3 222h-6M1174.3 186.7h6M2073.3 186.7h-6M1174.3 151.4h11M2073.3 151.4h-11M1174.3 116.2h6M2073.3 116.2h-6M1441.4 82.3v11M1441.4 926.9v-11M1708.4 82.3v11M1708.4 926.9v-11M1939.8 82.3v11M1939.8 926.9v-11" stroke="#111" stroke-width="1.5" fill="none"/>
<text class="tl" x="1151.8" y="165.8" text-anchor="end">100</text>
<text class="tl" x="1151.8" y="342" text-anchor="end">50</text>
<text class="tl" x="1151.8" y="518.3" text-anchor="end">0</text>
<text class="tl" x="1151.8" y="694.6" text-anchor="end">-50</text>
<text class="tl" x="1151.8" y="870.8" text-anchor="end">-100</text>
<text class="tl" transform="translate(1096.8 504) rotate(-90)" text-anchor="middle"><tspan font-style="italic">E</tspan> (meV)</text>
<text class="xl" x="1153.1" y="979.6">K'<tspan font-size="33" dy="9" dx="-7.4">s</tspan></text>
<text class="xl" x="1420.2" y="979.6">K<tspan font-size="33" dy="9" dx="-1">s</tspan></text>
<text class="xl" x="1689.2" y="979.6">Γ<tspan font-size="33" dy="9" dx="0">s</tspan></text>
<text class="xl" x="1915.2" y="979.6">M<tspan font-size="33" dy="9" dx="0">s</tspan></text>
<text class="xl" x="2052.1" y="979.6">K'<tspan font-size="33" dy="9" dx="-7.4">s</tspan></text>
<text class="pl" x="1112.3" y="73.3">b</text>
<text class="tt" x="1623.8" y="48.5" text-anchor="middle"><tspan font-style="italic">θ</tspan><tspan font-style="italic" font-size="36" dy="10.7">3L</tspan><tspan dy="-10.7"> = 1.57°  </tspan><tspan font-style="italic">D</tspan>/ε<tspan font-size="36" dy="10.7">0</tspan><tspan dy="-10.7"> = 0.5 V/nm</tspan></text>
</g>
<g>
<clipPath id="clipc"><rect x="126.2" y="1119.6" width="899" height="844.6"/></clipPath>
<line x1="393.3" y1="1132" x2="393.3" y2="1953.2" stroke="#1a1a1a" stroke-width="2.1" stroke-dasharray="2.1 4.43"/>
<line x1="660.3" y1="1132" x2="660.3" y2="1953.2" stroke="#1a1a1a" stroke-width="2.1" stroke-dasharray="2.1 4.43"/>
<line x1="891.7" y1="1132" x2="891.7" y2="1953.2" stroke="#1a1a1a" stroke-width="2.1" stroke-dasharray="2.1 4.43"/>
<path d="M125.2 1517.1L129.5 1520.1L133.8 1522.8L138.3 1525.5L142.9 1528L147.4 1530.3L152 1532.4L156.8 1534.5L161.5 1536.4L166.3 1538.2L171.1 1539.9L175.9 1541.5L177.2 1541.9L182.2 1540.4L187.2 1538.9L192.2 1537.6L197.2 1536.4L202.2 1535.3L207.2 1534.4L212.3 1533.5L217.3 1532.7L222.3 1532L227.3 1531.4L232.3 1530.9L237.3 1530.5L242.3 1530.2L247.3 1530L252.3 1529.8L257.3 1529.8L262.3 1529.8L267.3 1530L272.3 1530.2L277.4 1530.5L282.4 1530.8L287.4 1531.3L292.4 1531.8L297.4 1532.4L302.4 1533L307.4 1533.8L312.4 1534.6L317.4 1535.5L322.4 1536.4L327.4 1537.4L332.4 1538.4L337.4 1539.6L337.7 1539.6L342.2 1537.3L346.7 1534.6L351 1531.7L355 1528.7L359 1525.1L362.8 1521.4L366.3 1517.5L369.6 1513.4L372.6 1509.3L375.6 1504.8L378.4 1500.3L380.9 1495.8L383.4 1491.1L385.7 1486.6L387.9 1481.8L390.2 1476.7L392.2 1471.9L393.2 1469.4L395.2 1474.7L397.2 1479.6L399.2 1484.1L401.5 1489L403.8 1493.6L406.3 1498.3L408.8 1502.7L411.5 1507.1L414.6 1511.5L417.6 1515.5L420.8 1519.4L424.4 1523.1L428.1 1526.5L432.2 1529.6L436.4 1532.4L440.9 1534.8L445.7 1536.8L450.5 1538.4L455.5 1539.7L460.5 1540.8L460.8 1540.8L465.8 1540L470.8 1539.3L475.8 1538.7L480.8 1538.1L485.8 1537.5L490.8 1537L495.8 1536.5L500.8 1536L505.9 1535.5L510.9 1535L515.9 1534.4L520.9 1533.8L525.9 1533.1L530.9 1532.4L535.9 1531.6L540.9 1530.6L545.9 1529.6L550.9 1528.5L555.9 1527.2L560.9 1525.8L565.9 1524.2L570.7 1522.5L575.4 1520.7L580.2 1518.7L584.9 1516.5L589.4 1514.2L594 1511.8L598.5 1509.2L603 1506.6L607.5 1504L612 1501.4L616.5 1498.9L621 1496.5L625.5 1494.2L630.2 1492.1L635 1490.2L640 1488.7L645 1487.5L650 1486.8L655 1486.5L660 1486.5L665 1486.8L670 1487.5L675 1488.4L680.1 1489.6L685.1 1491L690.1 1492.6L694.8 1494.3L699.6 1496L704.3 1497.9L709.1 1499.7L713.8 1501.5L718.6 1503.3L723.4 1505L728.1 1506.6L733.1 1508L738.1 1509.3L743.1 1510.3L748.1 1511.2L753.1 1512L758.1 1512.7L763.2 1513.4L768.2 1514.1L773.2 1514.9L778.2 1515.6L783.2 1516.4L788.2 1517.2L793.2 1517.9L798.2 1518.7L803.2 1519.5L808.2 1520.3L813.2 1521.1L818.2 1521.9L823.2 1522.7L828.2 1523.4L833.2 1524.2L838.2 1524.9L843.2 1525.6L848.2 1526.2L853.3 1526.8L858.3 1527.4L863.3 1527.9L868.3 1528.3L873.3 1528.7L878.3 1529.1L883.3 1529.3L888.3 1529.6L891.8 1529.7L896.8 1529.7L901.8 1529.8L906.8 1530L911.9 1530.2L916.9 1530.6L921.9 1531.1L926.9 1531.7L931.9 1532.5L936.9 1533.3L942 1534.2L947 1535.3L952 1536.5L957 1537.8L962 1539.2L967 1540.7L970.8 1541.9L975.8 1541L980.9 1539.8L985.9 1538.3L990.7 1536.6L995.5 1534.6L1000 1532.5L1004.6 1530.1L1009.1 1527.5L1013.4 1524.9L1017.7 1522L1022 1519L1024.5 1517.1L1024.5 1594.2L1022.2 1589.6L1019.7 1584.9L1017.2 1580.5L1014.4 1576L1011.4 1571.6L1008.4 1567.6L1005.1 1563.7L1001.6 1559.9L997.8 1556.4L993.7 1553.2L989.5 1550.3L984.9 1547.7L980.4 1545.6L975.6 1543.6L970.8 1542L967 1542.9L962 1544L957 1545.2L952 1546.3L947 1547.4L942 1548.4L936.9 1549.3L931.9 1550.2L926.9 1551L921.9 1551.8L916.9 1552.4L911.9 1552.9L906.8 1553.3L901.8 1553.6L896.8 1553.7L891.8 1553.6L888.3 1553.3L883.3 1552.9L878.3 1552.4L873.3 1552L868.3 1551.6L863.3 1551.1L858.3 1550.7L853.3 1550.3L848.2 1549.9L843.2 1549.6L838.2 1549.2L833.2 1548.9L828.2 1548.6L823.2 1548.4L818.2 1548.2L813.2 1548L808.2 1547.9L803.2 1547.9L798.2 1547.8L793.2 1547.9L788.2 1548L783.2 1548.2L778.2 1548.4L773.2 1548.8L768.2 1549.3L763.2 1549.9L758.1 1550.7L753.1 1551.7L748.1 1552.9L743.1 1554.4L738.4 1556L733.6 1557.9L728.9 1560.1L724.4 1562.3L719.9 1564.6L715.3 1567.1L710.8 1569.6L706.3 1572.1L701.8 1574.5L697.3 1576.9L692.8 1579.1L688.1 1581.2L683.3 1583.1L678.6 1584.7L673.5 1586L668.5 1587L663.5 1587.6L658.5 1587.9L653.5 1587.9L648.5 1587.5L643.5 1586.8L638.5 1585.8L633.5 1584.5L628.5 1583L623.7 1581.3L619 1579.4L614.2 1577.5L609.5 1575.4L604.7 1573.3L600 1571.3L595.2 1569.2L590.5 1567.3L585.7 1565.5L580.9 1563.8L575.9 1562.2L570.9 1560.7L565.9 1559.3L560.9 1558.1L555.9 1557L550.9 1555.9L545.9 1555L540.9 1554.1L535.9 1553.3L530.9 1552.5L525.9 1551.7L520.9 1551L515.9 1550.3L510.9 1549.7L505.9 1549L500.8 1548.3L495.8 1547.5L490.8 1546.7L485.8 1545.9L480.8 1545L475.8 1544.1L470.8 1543L465.8 1541.9L460.8 1540.7L457.3 1541.2L452.3 1541.9L447.2 1542.8L442.2 1543.7L437.2 1544.8L432.2 1546L427.1 1547.2L422.1 1548.6L417.1 1550.2L412.3 1551.8L407.5 1553.5L402.7 1555.4L398 1557.4L393.2 1559.6L390.2 1558.3L385.4 1556.4L380.6 1554.7L375.9 1553L371.1 1551.3L366.3 1549.8L361.6 1548.2L356.8 1546.6L352 1545L347.2 1543.3L342.5 1541.5L337.7 1539.6L336.7 1540L331.9 1541.8L327.2 1543.5L322.4 1545.1L317.4 1546.6L312.4 1547.9L307.4 1549L302.4 1550L297.4 1550.9L292.4 1551.7L287.4 1552.3L282.4 1552.7L277.4 1553.1L272.3 1553.3L267.3 1553.4L262.3 1553.4L257.3 1553.3L252.3 1553.1L247.3 1552.9L242.3 1552.5L237.3 1552L232.3 1551.5L227.3 1550.9L222.3 1550.2L217.3 1549.5L212.3 1548.7L207.2 1547.8L202.2 1546.9L197.2 1546L192.2 1545L187.2 1543.9L182.2 1542.9L177.2 1541.9L173.7 1543.7L168.9 1545.8L164.1 1547.9L159.5 1549.9L155 1552.4L150.7 1555.3L146.7 1558.7L143.1 1562.4L139.8 1566.4L136.8 1570.7L134 1575.3L131.5 1580L129.2 1584.7L127.2 1589.3L125.2 1594.3Z" fill="#e1e1e6" stroke="none" clip-path="url(#clipc)"/>
<path d="M125.2 1517.8L129 1514.1L132.2 1510.1L135.2 1505.8L138 1501.5L140.7 1496.8L143.2 1492.2L145.7 1487.4L148 1482.8L150.2 1478L152.5 1473.1L154.7 1468L156.7 1463.3L158.8 1458.6L160.8 1453.7L162.8 1448.8L164.8 1443.8L166.8 1438.8L168.8 1433.7L170.8 1428.6L172.8 1423.4L174.8 1418.2L176.8 1413L178.8 1407.7L180.8 1402.4L182.8 1397.1L184.8 1391.8L186.8 1386.5L188.8 1381.2L190.8 1375.9L192.8 1370.5L194.8 1365.2L196.8 1360L198.8 1354.7L200.8 1349.5L202.8 1344.3L204.8 1339.2L206.8 1334.1L208.8 1329.1L210.8 1324.1L212.8 1319.2L214.8 1314.4L216.8 1309.6L218.8 1305L221.1 1299.8L223.3 1294.8L225.6 1289.9L227.9 1285.2L230.1 1280.6L232.6 1275.7L235.1 1271L237.6 1266.5L240.4 1261.8L243.1 1257.4L246.1 1253L249.1 1248.9L252.4 1245L255.9 1241.4L259.9 1237.9L264.2 1235.2L268.9 1233.4L273.9 1232.8L278.9 1233.5L283.7 1235.4L287.9 1238L291.9 1241.3L295.7 1245L299.2 1249L302.5 1253.2L305.5 1257.4L308.2 1261.6L311 1266.1L313.7 1270.8L316.2 1275.4L318.7 1280.1L321 1284.6L323.2 1289.2L325.5 1294L327.8 1298.9L330 1304L332 1308.6L334 1313.4L336 1318.2L338 1323.2L340 1328.2L342 1333.3L344 1338.6L346 1343.8L347.8 1348.5L349.5 1353.3L351.3 1358L353 1362.9L354.8 1367.7L356.5 1372.6L358.3 1377.6L360.1 1382.5L361.8 1387.5L363.6 1392.5L365.3 1397.5L367.1 1402.5L368.8 1407.4L370.6 1412.4L372.3 1417.3L374.1 1422.2L375.8 1427L377.6 1431.8L379.3 1436.5L381.3 1441.8L383.3 1447L385.3 1452.1L387.3 1457.1L389.3 1461.9L391.3 1466.6L393.1 1470.6 M393.1 1471.3L395.1 1466.3L397.1 1461.4L399.1 1456.5L401.1 1451.6L403.1 1446.8L405.1 1442L407.1 1437.2L409.1 1432.4L411.1 1427.7L413.1 1422.9L415.1 1418.2L417.2 1413.5L419.2 1408.9L421.2 1404.2L423.2 1399.6L425.2 1395L427.2 1390.3L429.2 1385.7L431.2 1381.2L433.4 1376L435.7 1370.9L437.9 1365.7L440.2 1360.6L442.5 1355.5L444.7 1350.4L447 1345.3L449.2 1340.2L451.5 1335.1L453.7 1330L456 1324.9L458.2 1319.8L460.5 1314.7L462.7 1309.5L465 1304.4L467.3 1299.3L469.3 1294.7L471.3 1290.1L473.3 1285.5L475.3 1280.9L477.3 1276.2L479.3 1271.6L481.3 1266.9L483.3 1262.3L485.3 1257.6L487.3 1252.9L489.3 1248.2L491.3 1243.5L493.3 1238.8L495.3 1234.1L497.3 1229.4L499.3 1224.6L501.3 1219.9L503.3 1215.2L505.3 1210.4L507.3 1205.7L509.3 1200.9L511.3 1196.2L513.4 1191.4L515.4 1186.7L517.4 1181.9L519.4 1177.2L521.4 1172.5L523.4 1167.7L525.4 1163.1L527.6 1158.1L530.1 1153.4L533.1 1149.4L536.4 1148L538.7 1154.6L540.9 1159.3L543.2 1164L545.4 1168.8L547.7 1173.6L549.9 1178.5L552.2 1183.5L554.4 1188.4L556.7 1193.5L558.9 1198.5L561.2 1203.5L563.4 1208.6L565.7 1213.6L568 1218.6L570.2 1223.6L572.5 1228.6L574.7 1233.5L577 1238.5L579.2 1243.3L581.5 1248.1L583.7 1252.8L586 1257.5L588.2 1262.1L590.5 1266.5L593 1271.4L595.5 1276.1L598 1280.7L600.5 1285.2L603.3 1289.9L606 1294.4L608.8 1298.6L611.8 1303L614.8 1307.1L618 1311.1L621.5 1315.1L625.3 1318.7L629.3 1321.9L633.6 1324.5L638.3 1326.4L643.3 1327.1L648.3 1326.5L653.1 1324.5L657.4 1321.6L661.1 1318.1L664.6 1314.2L667.9 1310L670.9 1305.7L673.6 1301.3L676.4 1296.5L678.9 1291.9L681.4 1287.1L683.7 1282.5L685.9 1277.7L688.2 1272.7L690.2 1268.1L692.2 1263.3L694.2 1258.4L696.2 1253.4L698.2 1248.3L700.2 1243L701.9 1238.3L703.7 1233.5L705.4 1228.7L707.2 1223.7L708.9 1218.7L710.7 1213.6L712.5 1208.4L714.2 1203.2L716 1197.8L717.7 1192.4L719.5 1186.9L721 1182.1L722.5 1177.2L724 1172.3L725.5 1167.2L727 1162.1L728.5 1157L730 1151.7L731.5 1146.3L733 1140.9L734.5 1135.3L736 1129.7L737.5 1124L738.7 1119.1L739.5 1116.2 M576.5 1115.1L578.3 1119.8L580 1124.5L581.8 1129.3L583.5 1134.1L585.3 1138.9L587 1143.8L588.8 1148.7L590.5 1153.6L592.3 1158.5L594 1163.4L595.8 1168.4L597.5 1173.3L599.3 1178.2L601 1183.1L602.8 1188L604.5 1192.9L606.3 1197.8L608 1202.6L609.8 1207.4L611.5 1212.2L613.3 1217L615.1 1221.7L617.1 1227L619.1 1232.2L621.1 1237.4L623.1 1242.5L625.1 1247.5L627.1 1252.5L629.1 1257.3L631.1 1262L633.1 1266.6L635.3 1271.7L637.6 1276.6L639.8 1281.4L642.1 1285.9L644.6 1290.8L647.1 1295.4L649.6 1299.8L652.4 1304.4L655.1 1308.6L658.1 1312.8L661.4 1317L664.9 1321L668.6 1324.7L672.6 1327.9L676.9 1330.6L681.6 1332.6L686.6 1333.6L691.7 1333.5L696.7 1332.1L701.2 1329.9L705.4 1326.9L709.2 1323.5L712.7 1319.9L715.9 1316L719.2 1311.7L722.2 1307.4L724.9 1303.2L727.7 1298.8L730.5 1294.1L733 1289.7L735.5 1285L738 1280.3L740.5 1275.3L742.7 1270.8L745 1266.1L747.2 1261.3L749.5 1256.5L751.7 1251.5L754 1246.5L756.2 1241.4L758.5 1236.3L760.5 1231.7L762.5 1227L764.5 1222.3L766.5 1217.6L768.5 1212.9L770.5 1208.1L772.5 1203.3L774.5 1198.6L776.5 1193.8L778.5 1189.1L780.5 1184.3L782.5 1179.6L784.5 1174.9L786.5 1170.2L788.5 1165.5L790.5 1160.9L792.8 1155.8L795 1150.7L797.3 1145.7L799.5 1140.7L801.8 1135.9L803.3 1132.7L806.6 1136.3L809.8 1140.4L813.1 1144.5L816.3 1148.7L819.6 1153L822.8 1157.3L825.8 1161.3L828.9 1165.4L831.9 1169.4L834.9 1173.5L837.9 1177.5L840.9 1181.6L843.9 1185.6L847.1 1189.9L850.4 1194.1L853.7 1198.3L856.9 1202.3L860.2 1206.3L863.4 1210.1L866.9 1214.1L870.4 1217.9L873.9 1221.6L877.7 1225.4L881.5 1229.1L885.2 1232.8L888.7 1236.4L892.2 1240.2L895.7 1244.1L899 1248.1L902.3 1252.3L905.3 1256.5L908.3 1261.1L911 1265.6L913.5 1269.9L916 1274.5L918.5 1279.3L920.8 1283.8L923 1288.4L925.3 1293.1L927.6 1298L929.8 1303L932.1 1308.1L934.1 1312.8L936.1 1317.5L938.1 1322.3L940.1 1327.2L942.1 1332.1L944.1 1337.1L946.1 1342.1L948.1 1347.2L950.1 1352.3L952.1 1357.4L954.1 1362.6L956.1 1367.8L958.1 1373.1L960.1 1378.3L962.1 1383.5L964.1 1388.8L966.1 1394L968.1 1399.2L970.1 1404.5L972.1 1409.7L974.1 1414.8L976.2 1420L978.2 1425.1L980.2 1430.1L982.2 1435.1L984.2 1440.1L986.2 1445L988.2 1449.8L990.2 1454.6L992.2 1459.3L994.2 1463.9L996.4 1468.9L998.7 1473.9L1001 1478.7L1003.2 1483.4L1005.5 1487.8L1008 1492.6L1010.5 1497.2L1013.2 1501.9L1016 1506.2L1019 1510.6L1022.2 1514.8L1024.5 1517.4 M125.2 1592.1L127.7 1596.8L130.2 1601.7L132.5 1606.3L134.7 1611L137 1615.9L139.2 1620.9L141.5 1626L143.5 1630.6L145.5 1635.3L147.5 1640.1L149.5 1644.9L151.5 1649.8L153.5 1654.8L155.5 1659.8L157.5 1664.8L159.5 1669.9L161.5 1675L163.5 1680.1L165.5 1685.2L167.5 1690.3L169.5 1695.4L171.5 1700.5L173.5 1705.6L175.5 1710.7L177.5 1715.7L179.5 1720.7L181.5 1725.7L183.5 1730.6L185.5 1735.4L187.5 1740.2L189.5 1744.9L191.5 1749.6L193.8 1754.7L196 1759.7L198.3 1764.5L200.5 1769.3L202.8 1773.9L205.3 1778.8L207.8 1783.6L210.3 1788.1L212.8 1792.4L215.5 1797L218.3 1801.2L221.3 1805.5L224.5 1809.8L227.8 1813.6L231.3 1817.3L235.3 1820.8L239.6 1823.6L244.3 1825.8L249.3 1826.8L254.3 1826.5L259.1 1824.8L263.6 1822L267.6 1818.6L271.1 1814.9L274.3 1810.9L277.3 1806.8L280.3 1802.2L283.1 1797.7L285.6 1793.3L288.1 1788.7L290.6 1783.8L292.9 1779.2L295.1 1774.5L297.4 1769.6L299.6 1764.5L301.6 1759.8L303.6 1755.1L305.6 1750.2L307.6 1745.2L309.6 1740.1L311.6 1735L313.6 1729.7L315.6 1724.4L317.4 1719.7L319.1 1714.9L320.9 1710.1L322.6 1705.3L324.4 1700.4L326.1 1695.4L327.9 1690.4L329.6 1685.5L331.4 1680.4L333.1 1675.4L334.9 1670.4L336.6 1665.3L338.4 1660.3L340.2 1655.3L341.9 1650.4L343.7 1645.4L345.4 1640.6L347.2 1635.8L348.9 1631L350.9 1625.7L352.9 1620.5L354.9 1615.4L356.9 1610.4L358.9 1605.6L360.9 1600.9L363.2 1595.9L365.4 1591.2L367.7 1586.6L370.2 1582L372.9 1577.2L375.7 1573L378.7 1569L382.2 1565.1L386.2 1561.9L390.9 1559.8L393.2 1559.5 M393.2 1558.5L397.2 1561.5L401 1565.2L404.2 1569L407.5 1573.3L410.5 1577.7L413.2 1582.1L416 1586.8L418.5 1591.3L421 1596L423.5 1601L425.8 1605.5L428 1610.3L430.3 1615.1L432.5 1620L434.8 1625L437 1630.1L439.1 1634.7L441.1 1639.4L443.1 1644L445.1 1648.7L447.1 1653.5L449.1 1658.3L451.1 1663.1L453.1 1667.9L455.1 1672.7L457.1 1677.6L459.1 1682.5L461.1 1687.3L463.1 1692.2L465.1 1697.1L467.1 1702L469.1 1706.9L471.1 1711.8L473.1 1716.7L475.1 1721.6L477.1 1726.5L479.1 1731.4L481.1 1736.2L483.2 1741.1L485.2 1746L487.2 1750.9L489.2 1755.8L491.2 1760.7L493.2 1765.6L495.2 1770.5L497.2 1775.4L499.2 1780.3L501.2 1785.2L503.2 1790.1L505.2 1795L507.2 1799.9L509.2 1804.8L511.2 1809.7L513.2 1814.7L515.2 1819.6L517.2 1824.5L519.2 1829.4L521.2 1834.3L523.2 1839.3L525.2 1844.2L527.3 1849.2L529.3 1854.1L531.3 1859L533.3 1864L535.3 1869L537.3 1873.9L539.3 1878.9L541.3 1883.9L543.3 1888.8L545.3 1893.8L547.3 1898.8L549.3 1903.8L551.3 1908.8L553.3 1913.8L555.3 1918.8L557.3 1923.9L559.3 1928.9L561.3 1933.9L563.3 1939L565.3 1944L567.3 1949.1L569.3 1954.1L571.1 1958.6L572.9 1953.8L574.6 1948.4L576.4 1943.1L578.1 1937.8L579.9 1932.4L581.6 1927L583.4 1921.7L585.1 1916.3L586.9 1911L588.6 1905.7L590.4 1900.4L592.1 1895.1L593.9 1889.8L595.6 1884.6L597.4 1879.3L599.2 1874.2L600.9 1869L602.7 1863.9L604.4 1858.9L606.2 1853.9L607.9 1849L609.7 1844.1L611.4 1839.2L613.2 1834.5L614.9 1829.8L616.9 1824.5L618.9 1819.4L620.9 1814.3L622.9 1809.3L625 1804.5L627 1799.8L629.2 1794.7L631.5 1789.7L633.7 1784.9L636 1780.3L638.5 1775.4L641 1770.8L643.5 1766.4L646.2 1761.9L649.2 1757.4L652.3 1753.4L655.5 1749.5L659 1745.9L663 1742.6L667.5 1740L672.3 1738.4L677.3 1738.1L682.3 1739L687.1 1741.1L691.3 1743.9L695.3 1747.3L698.8 1751L702.1 1754.9L705.1 1759L708.1 1763.5L710.9 1767.9L713.4 1772.3L715.9 1776.9L718.4 1781.8L720.6 1786.5L722.9 1791.3L725.1 1796.4L727.1 1801L729.1 1805.8L731.1 1810.7L733.2 1815.7L735.2 1820.9L737.2 1826.2L738.9 1830.8L740.7 1835.6L742.4 1840.4L744.2 1845.3L745.9 1850.3L747.7 1855.3L749.4 1860.3L751.2 1865.4L752.9 1870.6L754.7 1875.7L756.4 1880.9L758.2 1886.2L760 1891.4L761.7 1896.6L763.5 1901.9L765.2 1907.2L767 1912.4L768.7 1917.7L770.5 1922.9L772.2 1928.2L774 1933.4L775.7 1938.6L777.5 1943.7L779.2 1948.8L781 1953.9L782.7 1958.9L784.5 1963.9L785 1965.3 M514 1966.4L515.8 1961.6L517.5 1956.9L519.3 1952.1L521 1947.4L522.8 1942.6L524.5 1937.9L526.3 1933.1L528 1928.3L529.8 1923.6L531.5 1918.8L533.3 1914.1L535 1909.3L536.8 1904.6L538.5 1899.9L540.5 1894.6L542.6 1889.3L544.6 1884L546.6 1878.7L548.6 1873.5L550.6 1868.3L552.6 1863.2L554.6 1858.1L556.6 1853.1L558.6 1848.1L560.6 1843.2L562.6 1838.3L564.6 1833.5L566.6 1828.8L568.6 1824.1L570.9 1819L573.1 1813.9L575.4 1809L577.6 1804.2L579.9 1799.5L582.1 1794.9L584.4 1790.4L586.9 1785.6L589.4 1781L591.9 1776.5L594.7 1771.8L597.4 1767.3L600.2 1763L603.2 1758.7L606.2 1754.6L609.4 1750.6L612.9 1746.7L616.7 1743L620.7 1739.7L625 1736.9L629.7 1734.7L634.7 1733.4L639.7 1733.4L644.7 1734.6L649.5 1736.7L653.8 1739.5L657.8 1742.9L661.5 1746.6L665 1750.6L668.3 1754.6L671.3 1758.8L674.3 1763.2L677.1 1767.5L679.8 1772L682.6 1776.7L685.1 1781.2L687.6 1785.9L690.1 1790.8L692.3 1795.3L694.6 1799.9L696.8 1804.6L699.1 1809.4L701.4 1814.4L703.6 1819.4L705.9 1824.5L707.9 1829.1L709.9 1833.8L711.9 1838.6L713.9 1843.4L715.9 1848.3L717.9 1853.2L719.9 1858.1L721.9 1863.1L723.9 1868.1L725.9 1873.2L727.9 1878.3L729.9 1883.3L731.9 1888.4L733.9 1893.5L735.9 1898.6L737.9 1903.7L739.9 1908.7L741.9 1913.8L743.9 1918.8L745.9 1923.8L747.9 1928.7L749.9 1933.6L751.9 1938.4L753.9 1943.2L754.2 1943.8L756.2 1936.7L758.5 1931.6L760.7 1926.5L763 1921.7L765.2 1916.9L767.5 1912.2L769.7 1907.7L772.2 1902.7L774.7 1897.9L777.2 1893.3L779.7 1888.8L782.2 1884.4L785 1879.8L787.7 1875.3L790.5 1870.9L793.5 1866.4L796.5 1862.1L799.5 1858L802.8 1853.7L806 1849.7L809.3 1845.9L812.8 1842.1L816.3 1838.5L820 1835L824 1831.5L828 1828.4L832.3 1825.5L836.8 1822.8L841.3 1820.5L846.1 1818.6L851.1 1817.1L856.1 1816.1L861.1 1815.6L866.1 1815.7L871.1 1816.2L876.1 1817.2L881.1 1818.7L885.8 1820.3L890.6 1821.9L895.6 1823.3L900.6 1824.4L905.6 1824.9L910.6 1824.6L915.6 1823.3L920.1 1821.2L924.4 1818.1L928.1 1814.7L931.6 1810.9L934.9 1806.8L937.9 1802.7L940.9 1798.2L943.7 1793.7L946.4 1789L948.9 1784.4L951.4 1779.6L953.7 1775.2L955.9 1770.5L958.2 1765.7L960.4 1760.8L962.7 1755.7L964.7 1751.1L966.7 1746.3L968.7 1741.5L970.7 1736.6L972.7 1731.6L974.7 1726.6L976.7 1721.4L978.7 1716.2L980.7 1711L982.7 1705.7L984.7 1700.3L986.5 1695.6L988.2 1690.9L990 1686.1L991.7 1681.3L993.5 1676.5L995.2 1671.7L997 1666.8L998.7 1662L1000.5 1657.2L1002.2 1652.3L1004 1647.5L1005.7 1642.7L1007.5 1637.9L1009.2 1633.1L1011 1628.3L1012.7 1623.6L1014.5 1618.9L1016.5 1613.6L1018.5 1608.3L1020.5 1603L1022.5 1597.8L1024.5 1592.7 M745.3 1967L746.9 1961.7L748.9 1956.7L751.3 1952.2L754.2 1948.1L756.3 1952.8L758.2 1957.6L759.9 1962.7L761 1967 M523 1115L525.1 1119.8L527.4 1124.7L530 1129.5L533.1 1133.7L537.2 1136L537.6 1134.9L538 1133.9L538.4 1132.8L538.8 1131.7L539.3 1130.7L539.7 1129.6L540.1 1128.5L540.5 1127.5L540.9 1126.4L541.3 1125.3L541.7 1124.3L542.1 1123.2L542.5 1122.1L542.9 1121.1L543.4 1120L543.8 1118.9L544.2 1117.9L544.6 1116.4L545 1115 M799 1115L799.2 1115.4L799.5 1115.7L799.7 1116.1L799.9 1116.5L800.1 1116.8L800.4 1117.2L800.6 1117.6L800.8 1117.9L801 1118.3L801.3 1118.7L801.5 1119.1L801.7 1119.4L801.9 1119.8L802.2 1120.2L802.4 1120.5L802.6 1120.9L802.8 1121.3L803.1 1121.6L803.3 1122L803.5 1121.6L803.8 1121.3L804 1120.9L804.2 1120.5L804.4 1120.2L804.7 1119.8L804.9 1119.4L805.1 1119.1L805.3 1118.7L805.6 1118.3L805.8 1117.9L806 1117.6L806.2 1117.2L806.5 1116.8L806.7 1116.5L806.9 1116.1L807.1 1115.7L807.4 1115.4L807.6 1115 M125.2 1517.1L129.5 1520.1L133.8 1522.8L138.3 1525.5L142.9 1528L147.4 1530.3L152 1532.4L156.8 1534.5L161.5 1536.4L166.3 1538.2L171.1 1539.9L175.9 1541.5L177.2 1541.9L182.2 1540.4L187.2 1538.9L192.2 1537.6L197.2 1536.4L202.2 1535.3L207.2 1534.4L212.3 1533.5L217.3 1532.7L222.3 1532L227.3 1531.4L232.3 1530.9L237.3 1530.5L242.3 1530.2L247.3 1530L252.3 1529.8L257.3 1529.8L262.3 1529.8L267.3 1530L272.3 1530.2L277.4 1530.5L282.4 1530.8L287.4 1531.3L292.4 1531.8L297.4 1532.4L302.4 1533L307.4 1533.8L312.4 1534.6L317.4 1535.5L322.4 1536.4L327.4 1537.4L332.4 1538.4L337.4 1539.6L337.7 1539.6L342.2 1537.3L346.7 1534.6L351 1531.7L355 1528.7L359 1525.1L362.8 1521.4L366.3 1517.5L369.6 1513.4L372.6 1509.3L375.6 1504.8L378.4 1500.3L380.9 1495.8L383.4 1491.1L385.7 1486.6L387.9 1481.8L390.2 1476.7L392.2 1471.9L393.2 1469.4L395.2 1474.7L397.2 1479.6L399.2 1484.1L401.5 1489L403.8 1493.6L406.3 1498.3L408.8 1502.7L411.5 1507.1L414.6 1511.5L417.6 1515.5L420.8 1519.4L424.4 1523.1L428.1 1526.5L432.2 1529.6L436.4 1532.4L440.9 1534.8L445.7 1536.8L450.5 1538.4L455.5 1539.7L460.5 1540.8L460.8 1540.8L465.8 1540L470.8 1539.3L475.8 1538.7L480.8 1538.1L485.8 1537.5L490.8 1537L495.8 1536.5L500.8 1536L505.9 1535.5L510.9 1535L515.9 1534.4L520.9 1533.8L525.9 1533.1L530.9 1532.4L535.9 1531.6L540.9 1530.6L545.9 1529.6L550.9 1528.5L555.9 1527.2L560.9 1525.8L565.9 1524.2L570.7 1522.5L575.4 1520.7L580.2 1518.7L584.9 1516.5L589.4 1514.2L594 1511.8L598.5 1509.2L603 1506.6L607.5 1504L612 1501.4L616.5 1498.9L621 1496.5L625.5 1494.2L630.2 1492.1L635 1490.2L640 1488.7L645 1487.5L650 1486.8L655 1486.5L660 1486.5L665 1486.8L670 1487.5L675 1488.4L680.1 1489.6L685.1 1491L690.1 1492.6L694.8 1494.3L699.6 1496L704.3 1497.9L709.1 1499.7L713.8 1501.5L718.6 1503.3L723.4 1505L728.1 1506.6L733.1 1508L738.1 1509.3L743.1 1510.3L748.1 1511.2L753.1 1512L758.1 1512.7L763.2 1513.4L768.2 1514.1L773.2 1514.9L778.2 1515.6L783.2 1516.4L788.2 1517.2L793.2 1517.9L798.2 1518.7L803.2 1519.5L808.2 1520.3L813.2 1521.1L818.2 1521.9L823.2 1522.7L828.2 1523.4L833.2 1524.2L838.2 1524.9L843.2 1525.6L848.2 1526.2L853.3 1526.8L858.3 1527.4L863.3 1527.9L868.3 1528.3L873.3 1528.7L878.3 1529.1L883.3 1529.3L888.3 1529.6L891.8 1529.7L896.8 1529.7L901.8 1529.8L906.8 1530L911.9 1530.2L916.9 1530.6L921.9 1531.1L926.9 1531.7L931.9 1532.5L936.9 1533.3L942 1534.2L947 1535.3L952 1536.5L957 1537.8L962 1539.2L967 1540.7L970.8 1541.9L975.8 1541L980.9 1539.8L985.9 1538.3L990.7 1536.6L995.5 1534.6L1000 1532.5L1004.6 1530.1L1009.1 1527.5L1013.4 1524.9L1017.7 1522L1022 1519L1024.5 1517.1 M125.2 1594.3L127.2 1589.3L129.2 1584.7L131.5 1580L134 1575.3L136.8 1570.7L139.8 1566.4L143.1 1562.4L146.7 1558.7L150.7 1555.3L155 1552.4L159.5 1549.9L164.1 1547.9L168.9 1545.8L173.7 1543.7L177.2 1541.9L182.2 1542.9L187.2 1543.9L192.2 1545L197.2 1546L202.2 1546.9L207.2 1547.8L212.3 1548.7L217.3 1549.5L222.3 1550.2L227.3 1550.9L232.3 1551.5L237.3 1552L242.3 1552.5L247.3 1552.9L252.3 1553.1L257.3 1553.3L262.3 1553.4L267.3 1553.4L272.3 1553.3L277.4 1553.1L282.4 1552.7L287.4 1552.3L292.4 1551.7L297.4 1550.9L302.4 1550L307.4 1549L312.4 1547.9L317.4 1546.6L322.4 1545.1L327.2 1543.5L331.9 1541.8L336.7 1540L337.7 1539.6L342.5 1541.5L347.2 1543.3L352 1545L356.8 1546.6L361.6 1548.2L366.3 1549.8L371.1 1551.3L375.9 1553L380.6 1554.7L385.4 1556.4L390.2 1558.3L393.2 1559.6L398 1557.4L402.7 1555.4L407.5 1553.5L412.3 1551.8L417.1 1550.2L422.1 1548.6L427.1 1547.2L432.2 1546L437.2 1544.8L442.2 1543.7L447.2 1542.8L452.3 1541.9L457.3 1541.2L460.8 1540.7L465.8 1541.9L470.8 1543L475.8 1544.1L480.8 1545L485.8 1545.9L490.8 1546.7L495.8 1547.5L500.8 1548.3L505.9 1549L510.9 1549.7L515.9 1550.3L520.9 1551L525.9 1551.7L530.9 1552.5L535.9 1553.3L540.9 1554.1L545.9 1555L550.9 1555.9L555.9 1557L560.9 1558.1L565.9 1559.3L570.9 1560.7L575.9 1562.2L580.9 1563.8L585.7 1565.5L590.5 1567.3L595.2 1569.2L600 1571.3L604.7 1573.3L609.5 1575.4L614.2 1577.5L619 1579.4L623.7 1581.3L628.5 1583L633.5 1584.5L638.5 1585.8L643.5 1586.8L648.5 1587.5L653.5 1587.9L658.5 1587.9L663.5 1587.6L668.5 1587L673.5 1586L678.6 1584.7L683.3 1583.1L688.1 1581.2L692.8 1579.1L697.3 1576.9L701.8 1574.5L706.3 1572.1L710.8 1569.6L715.3 1567.1L719.9 1564.6L724.4 1562.3L728.9 1560.1L733.6 1557.9L738.4 1556L743.1 1554.4L748.1 1552.9L753.1 1551.7L758.1 1550.7L763.2 1549.9L768.2 1549.3L773.2 1548.8L778.2 1548.4L783.2 1548.2L788.2 1548L793.2 1547.9L798.2 1547.8L803.2 1547.9L808.2 1547.9L813.2 1548L818.2 1548.2L823.2 1548.4L828.2 1548.6L833.2 1548.9L838.2 1549.2L843.2 1549.6L848.2 1549.9L853.3 1550.3L858.3 1550.7L863.3 1551.1L868.3 1551.6L873.3 1552L878.3 1552.4L883.3 1552.9L888.3 1553.3L891.8 1553.6L896.8 1553.7L901.8 1553.6L906.8 1553.3L911.9 1552.9L916.9 1552.4L921.9 1551.8L926.9 1551L931.9 1550.2L936.9 1549.3L942 1548.4L947 1547.4L952 1546.3L957 1545.2L962 1544L967 1542.9L970.8 1542L975.6 1543.6L980.4 1545.6L984.9 1547.7L989.5 1550.3L993.7 1553.2L997.8 1556.4L1001.6 1559.9L1005.1 1563.7L1008.4 1567.6L1011.4 1571.6L1014.4 1576L1017.2 1580.5L1019.7 1584.9L1022.2 1589.6L1024.5 1594.2" fill="none" stroke="#1b84a2" stroke-width="4.2" stroke-linejoin="round" stroke-linecap="round" clip-path="url(#clipc)"/>
<rect x="126.2" y="1119.6" width="899" height="844.6" fill="none" stroke="#111" stroke-width="1.5"/>
<path d="M126.2 1929.1h6M1025.2 1929.1h-6M126.2 1893.8h11M1025.2 1893.8h-11M126.2 1858.6h6M1025.2 1858.6h-6M126.2 1823.3h6M1025.2 1823.3h-6M126.2 1788.1h6M1025.2 1788.1h-6M126.2 1752.8h6M1025.2 1752.8h-6M126.2 1717.6h11M1025.2 1717.6h-11M126.2 1682.3h6M1025.2 1682.3h-6M126.2 1647.1h6M1025.2 1647.1h-6M126.2 1611.8h6M1025.2 1611.8h-6M126.2 1576.6h6M1025.2 1576.6h-6M126.2 1541.3h11M1025.2 1541.3h-11M126.2 1506h6M1025.2 1506h-6M126.2 1470.8h6M1025.2 1470.8h-6M126.2 1435.5h6M1025.2 1435.5h-6M126.2 1400.3h6M1025.2 1400.3h-6M126.2 1365h11M1025.2 1365h-11M126.2 1329.8h6M1025.2 1329.8h-6M126.2 1294.5h6M1025.2 1294.5h-6M126.2 1259.3h6M1025.2 1259.3h-6M126.2 1224h6M1025.2 1224h-6M126.2 1188.8h11M1025.2 1188.8h-11M126.2 1153.5h6M1025.2 1153.5h-6M393.3 1119.6v11M393.3 1964.2v-11M660.3 1119.6v11M660.3 1964.2v-11M891.7 1119.6v11M891.7 1964.2v-11" stroke="#111" stroke-width="1.5" fill="none"/>
<text class="tl" x="103.7" y="1203" text-anchor="end">100</text>
<text class="tl" x="103.7" y="1379.3" text-anchor="end">50</text>
<text class="tl" x="103.7" y="1555.6" text-anchor="end">0</text>
<text class="tl" x="103.7" y="1731.9" text-anchor="end">-50</text>
<text class="tl" x="103.7" y="1908.1" text-anchor="end">-100</text>
<text class="tl" transform="translate(48.7 1541.3) rotate(-90)" text-anchor="middle"><tspan font-style="italic">E</tspan> (meV)</text>
<text class="xl" x="105" y="2016.9">K'<tspan font-size="33" dy="9" dx="-7.4">s</tspan></text>
<text class="xl" x="372.1" y="2016.9">K<tspan font-size="33" dy="9" dx="-1">s</tspan></text>
<text class="xl" x="641.1" y="2016.9">Γ<tspan font-size="33" dy="9" dx="0">s</tspan></text>
<text class="xl" x="867.1" y="2016.9">M<tspan font-size="33" dy="9" dx="0">s</tspan></text>
<text class="pl" x="64.2" y="1110.6">c</text>
<text class="tt" x="575.7" y="1085.8" text-anchor="middle"><tspan font-style="italic">θ</tspan><tspan font-style="italic" font-size="36" dy="10.7">4L</tspan><tspan dy="-10.7"> = 1.77°  </tspan><tspan font-style="italic">D</tspan>/ε<tspan font-size="36" dy="10.7">0</tspan><tspan dy="-10.7"> = 0.5 V/nm</tspan></text>
</g>
<g>
<clipPath id="clipd"><rect x="1174.3" y="1119.6" width="899" height="844.6"/></clipPath>
<line x1="1441.4" y1="1132" x2="1441.4" y2="1953.2" stroke="#1a1a1a" stroke-width="2.1" stroke-dasharray="2.1 4.43"/>
<line x1="1708.4" y1="1132" x2="1708.4" y2="1953.2" stroke="#1a1a1a" stroke-width="2.1" stroke-dasharray="2.1 4.43"/>
<line x1="1939.8" y1="1132" x2="1939.8" y2="1953.2" stroke="#1a1a1a" stroke-width="2.1" stroke-dasharray="2.1 4.43"/>
<path d="M1174.1 1503.5L1178.1 1506.8L1182.1 1509.9L1186.4 1512.9L1190.7 1515.8L1195 1518.4L1199.5 1521.1L1204 1523.5L1208.5 1525.8L1213.3 1527.9L1218.1 1530L1222.9 1531.8L1227.7 1533.5L1232.4 1535L1237.5 1536.5L1242.5 1537.9L1247.5 1539.1L1252.5 1540.3L1254.3 1540.6L1254.3 1540.5L1251.3 1541.4L1246.3 1542.8L1241.2 1544L1236.2 1545.2L1231.2 1546.2L1226.1 1547.3L1221.1 1548.5L1216.1 1549.7L1211.1 1551L1206 1552.5L1201.3 1554.1L1196.5 1555.9L1191.7 1558L1187.2 1560.2L1182.6 1562.7L1178.4 1565.4L1174.1 1568.4Z" fill="#e1e1e6" stroke="none" clip-path="url(#clipd)"/>
<path d="M1354.5 1540.2L1359.5 1538.7L1364.5 1537.2L1369.3 1535.7L1374.1 1534L1378.9 1532.2L1383.6 1530.2L1388.4 1528L1392.9 1525.7L1397.4 1523L1401.7 1520.3L1406 1517.2L1410 1514L1414 1510.5L1414.5 1510L1414.8 1510L1415.1 1510L1415.4 1510L1415.7 1510L1415.9 1510L1416.2 1510L1416.5 1510L1416.8 1510L1417.1 1510L1417.4 1510L1417.7 1510L1418 1510L1418.3 1510L1418.6 1510L1418.8 1510L1419.1 1510L1419.4 1510L1419.7 1510L1420 1510L1423.8 1513.5L1427.2 1517.4L1430.2 1521.5L1433.3 1525.7L1436.3 1529.8L1439.7 1533.8L1441.2 1535.4L1444.7 1531.5L1448 1527.6L1451.3 1523.5L1454.6 1519.3L1457.9 1515.3L1461.2 1511.5L1464.5 1508L1464.8 1508L1465.1 1508L1465.4 1508L1465.7 1508L1465.9 1508L1466.2 1508L1466.5 1508L1466.8 1508L1467.1 1508L1467.4 1508L1467.7 1508L1468 1508L1468.3 1508L1468.6 1508L1468.8 1508L1469.1 1508L1469.4 1508L1469.7 1508L1470 1508L1473.5 1512.2L1477.3 1515.9L1481.3 1519.4L1485.3 1522.4L1489.6 1525.3L1494.1 1527.8L1498.6 1530L1503.4 1531.9L1508.2 1533.4L1513.2 1534.7L1518.2 1535.7L1523.3 1536.6L1528.3 1537.2L1533.3 1537.8L1538.3 1538.3L1543.4 1538.8L1548.4 1539.3L1553.4 1540L1558.4 1540.8L1558.7 1540.8L1563.7 1540.2L1568.7 1540.1L1573.7 1539.8L1578.7 1539.3L1583.7 1538.7L1588.7 1537.9L1593.7 1536.9L1598.7 1535.8L1603.7 1534.6L1608.7 1533.3L1613.7 1531.9L1618.7 1530.4L1623.8 1528.8L1628.8 1527.2L1633.5 1525.6L1638.3 1524L1643 1522.4L1647.8 1520.7L1652.5 1519.1L1657.3 1517.5L1662 1515.9L1666.8 1514.3L1671.8 1512.7L1676.8 1511.2L1681.8 1509.8L1686.8 1508.5L1691.8 1507.5L1696.8 1506.6L1701.8 1506L1706.8 1505.7L1711.8 1505.7L1716.8 1506.1L1721.8 1506.7L1726.8 1507.6L1731.8 1508.7L1736.8 1509.9L1741.8 1511.3L1746.8 1512.8L1751.9 1514.3L1756.9 1515.7L1761.9 1517.1L1766.9 1518.4L1771.9 1519.6L1776.9 1520.7L1781.9 1521.7L1786.9 1522.6L1791.9 1523.4L1796.9 1524.1L1801.9 1524.7L1806.9 1525.3L1811.9 1525.8L1816.9 1526.2L1821.9 1526.6L1826.9 1527L1831.9 1527.3L1836.9 1527.7L1841.9 1528.1L1846.9 1528.5L1851.9 1528.9L1856.9 1529.3L1861.9 1529.8L1866.9 1530.2L1871.9 1530.7L1877 1531.1L1882 1531.6L1887 1532L1892 1532.5L1897 1532.9L1902 1533.4L1907 1533.8L1912 1534.2L1917 1534.6L1922 1535L1927 1535.4L1932 1535.8L1937 1536.1L1940 1536.3L1942.9 1536.4L1945.8 1536.6L1948.6 1536.7L1951.5 1536.8L1954.4 1537L1957.3 1537.1L1960.2 1537.2L1963 1537.5L1965.9 1537.8L1968.8 1538.1L1971.7 1538.5L1974.5 1538.8L1977.4 1539.2L1980.3 1539.5L1983.2 1539.8L1986.1 1540.2L1988.9 1540.5L1991.8 1540.9L1994.7 1541.2L1999.7 1540.1L2004.8 1538.9L2009.8 1537.6L2014.8 1536.1L2019.6 1534.5L2024.4 1532.7L2029.2 1530.8L2033.9 1528.7L2038.5 1526.5L2043 1524.2L2047.5 1521.7L2052.1 1518.9L2056.3 1516.2L2060.6 1513.2L2064.9 1510.1L2068.9 1506.9L2072.9 1503.6L2073.2 1503.4L2073.2 1569.3L2071.2 1568.3L2066.7 1566.2L2062.1 1564L2057.6 1561.8L2053.1 1559.6L2048.5 1557.5L2043.8 1555.3L2039 1553.2L2034.2 1551.2L2029.4 1549.3L2024.6 1547.6L2019.9 1546L2014.8 1544.5L2009.8 1543.3L2004.8 1542.3L1999.7 1541.6L1994.7 1541.2L1991.8 1541.4L1988.9 1541.7L1986.1 1541.9L1983.2 1542.1L1980.3 1542.4L1977.4 1542.6L1974.5 1542.8L1971.7 1543.1L1968.8 1543.3L1965.9 1543.4L1963 1543.6L1960.2 1543.8L1957.3 1544L1954.4 1544.1L1951.5 1544.3L1948.6 1544.5L1945.8 1544.7L1942.9 1544.8L1940 1545.1L1937.2 1544.9L1932.2 1544.5L1927.2 1544.2L1922.2 1544L1917.2 1543.7L1912.2 1543.5L1907.2 1543.3L1902.2 1543.1L1897.2 1542.9L1892.2 1542.8L1887.2 1542.6L1882.2 1542.5L1877.2 1542.4L1872.2 1542.3L1867.2 1542.3L1862.2 1542.2L1857.2 1542.1L1852.2 1542.1L1847.2 1542.1L1842.2 1542L1837.2 1542L1832.2 1542L1827.2 1542L1822.2 1542L1817.2 1542.1L1812.1 1542.3L1807.1 1542.6L1802.1 1543L1797.1 1543.5L1792.1 1544.2L1787.1 1545L1782.1 1546L1777.1 1547.2L1772.1 1548.5L1767.1 1550L1762.4 1551.6L1757.6 1553.3L1752.9 1555.2L1748.1 1557.1L1743.3 1559L1738.6 1560.8L1733.8 1562.5L1728.8 1564L1723.8 1565.1L1718.8 1565.9L1713.8 1566.4L1708.8 1566.6L1703.8 1566.6L1698.8 1566.3L1693.8 1565.9L1688.8 1565.2L1683.8 1564.4L1678.8 1563.5L1673.8 1562.5L1668.8 1561.4L1663.8 1560.2L1658.8 1559.1L1653.8 1557.9L1648.8 1556.7L1643.8 1555.4L1638.8 1554.2L1633.8 1553L1628.8 1551.8L1623.8 1550.6L1618.7 1549.5L1613.7 1548.4L1608.7 1547.3L1603.7 1546.3L1598.7 1545.4L1593.7 1544.5L1588.7 1543.7L1583.7 1543L1578.7 1542.4L1573.7 1541.8L1568.7 1541.4L1563.7 1541.1L1558.7 1540.4L1557.2 1540.8L1552.2 1542L1547.2 1542.9L1542.2 1543.7L1537.1 1544.5L1532.1 1545.1L1527.1 1545.8L1522.1 1546.4L1517.1 1547.1L1512.1 1547.9L1507.1 1548.9L1502 1550L1497 1551.3L1492 1552.8L1487.3 1554.5L1482.5 1556.5L1478 1558.6L1473.5 1561.1L1469.2 1564L1464.9 1562.5L1460.9 1559.5L1457.3 1555.9L1454.1 1552L1450.8 1547.8L1447.8 1543.7L1444.5 1539.4L1441.2 1535.4L1440.4 1536.5L1437.4 1540.7L1434.3 1544.7L1431 1548.8L1427.7 1552.6L1424.2 1556.2L1420.1 1559.5L1415.5 1562.2L1412.7 1560.8L1408.2 1558.5L1403.5 1556.3L1398.7 1554.2L1393.9 1552.2L1389.1 1550.4L1384.4 1548.7L1379.6 1547.1L1374.6 1545.6L1369.6 1544.1L1364.5 1542.7L1359.5 1541.4L1354.5 1540.2Z" fill="#e1e1e6" stroke="none" clip-path="url(#clipd)"/>
<path d="M1174.1 1503.4L1177.9 1500L1181.4 1496.4L1184.9 1492.5L1188.1 1488.6L1191.4 1484.4L1194.4 1480.3L1197.4 1476.1L1200.4 1471.7L1203.4 1467.2L1206.2 1463L1208.9 1458.7L1211.7 1454.3L1214.4 1449.8L1217.2 1445.4L1219.9 1440.9L1222.7 1436.4L1225.4 1432L1228.2 1427.5L1230.9 1423.1L1233.7 1418.8L1236.5 1414.5L1239.2 1410.3L1242.2 1405.9L1245.2 1401.6L1248.2 1397.4L1251.2 1393.4L1254.5 1389.2L1257.7 1385.2L1261.2 1381.1L1264.8 1377.3L1268.5 1373.5L1272.3 1370L1276.3 1366.6L1280.5 1363.5L1284.8 1360.8L1289.3 1358.5L1294.1 1356.7L1299.1 1355.5L1304.1 1355.1L1309.1 1355.4L1314.1 1356.6L1318.8 1358.4L1323.3 1360.7L1327.6 1363.5L1331.6 1366.5L1335.6 1370L1339.4 1373.6L1342.9 1377.3L1346.4 1381.4L1349.6 1385.4L1352.9 1389.6L1355.9 1393.8L1358.9 1398.2L1361.9 1402.7L1364.7 1407.1L1367.4 1411.6L1370.2 1416.2L1372.7 1420.6L1375.2 1425.1L1377.7 1429.7L1380.2 1434.4L1382.7 1439.2L1385.2 1444.2L1387.5 1448.6L1389.7 1453.2L1392 1457.7L1394.2 1462.3L1396.5 1467L1398.7 1471.6L1401 1476.3L1403.2 1480.9L1405.5 1485.5L1407.7 1490.1L1410 1494.7L1412.2 1499.2L1413.5 1501.7L1413.9 1500.5L1414.2 1500.5L1414.6 1500.5L1415 1500.5L1415.3 1500.5L1415.7 1500.5L1416.1 1500.5L1416.4 1500.5L1416.8 1500.5L1417.2 1500.5L1417.6 1500.5L1417.9 1500.5L1418.3 1500.5L1418.7 1500.5L1419 1500.5L1419.4 1500.5L1419.8 1500.5L1420.1 1500.5L1420.5 1500.5L1423.3 1495.9L1425.8 1491.4L1428.3 1486.5L1430.5 1481.5L1432.5 1476.8L1434.5 1471.7L1436.5 1466.4L1438.3 1461.4L1440 1456.3L1441.8 1450.9L1443.3 1446.1L1444.8 1441.2L1446.3 1436.2L1447.8 1431L1449.3 1425.8L1450.8 1420.5L1452.3 1415.1L1453.8 1409.7L1455.3 1404.3L1456.8 1398.8L1458.3 1393.4L1459.8 1387.9L1461.3 1382.5L1462.8 1377.1L1464.3 1371.8L1465.8 1366.5L1467.4 1361.2L1468.9 1356L1470.4 1350.8L1471.9 1345.6L1473.4 1340.4L1474.9 1335.3L1476.4 1330.2L1477.9 1325.1L1479.4 1320L1480.9 1314.9L1482.4 1309.9L1483.9 1304.8L1485.4 1299.7L1486.9 1294.7L1488.4 1289.6L1489.9 1284.5L1491.4 1279.4L1492.9 1274.3L1494.4 1269.2L1495.9 1264L1497.4 1258.9L1498.9 1253.7L1500.4 1248.4L1501.9 1243.2L1503.4 1237.9L1504.9 1232.5L1506.4 1227.1L1507.9 1221.7L1509.4 1216.2L1510.9 1210.7L1512.4 1205.1L1514 1199.5L1515.5 1193.8L1517 1188L1518.5 1182.3L1520 1176.5L1521.5 1170.7L1523 1165L1524.5 1159.3L1526 1153.7L1527.5 1148.1L1529 1142.6L1530.5 1137.2L1532 1131.8L1533.5 1126.7L1535 1121.6L1536.5 1116.7L1537 1115.1 M1346.5 1116.3L1348 1121.9L1349.5 1127.6L1351 1133.2L1352.5 1138.8L1354 1144.5L1355.5 1150.1L1357 1155.7L1358.5 1161.3L1360 1166.9L1361.6 1172.5L1363.1 1178.1L1364.6 1183.7L1366.1 1189.3L1367.6 1194.9L1369.1 1200.5L1370.6 1206L1372.1 1211.6L1373.6 1217.1L1375.1 1222.6L1376.6 1228.2L1378.1 1233.7L1379.6 1239.2L1381.1 1244.7L1382.6 1250.2L1384.1 1255.6L1385.6 1261.1L1387.1 1266.5L1388.6 1271.9L1390.1 1277.4L1391.7 1282.8L1393.2 1288.2L1394.7 1293.5L1396.2 1298.9L1397.7 1304.2L1399.2 1309.5L1400.7 1314.9L1402.2 1320.1L1403.7 1325.4L1405.2 1330.7L1406.7 1335.9L1408.2 1341.1L1409.7 1346.3L1411.2 1351.5L1412.7 1356.7L1414.2 1361.8L1415.7 1366.9L1417.2 1372L1418.7 1377.1L1420.3 1382.1L1421.8 1387.2L1423.3 1392.2L1424.8 1397.2L1426.3 1402.1L1427.8 1407.1L1429.3 1412L1430.8 1416.8L1432.3 1421.7L1433.8 1426.5L1435.3 1431.3L1437.1 1436.8L1438.8 1442.2L1440.6 1447.5L1442.3 1452.6L1444.1 1457.7L1445.8 1462.5L1447.6 1467.2L1449.6 1472.4L1451.6 1477.2L1453.9 1482.4L1456.1 1487.1L1458.6 1491.8L1461.4 1496.3L1464.4 1500.4L1464.7 1501L1465 1501L1465.4 1501L1465.7 1501L1466 1501L1466.3 1501L1466.6 1501L1467 1501L1467.3 1501L1467.6 1501L1467.9 1501L1468.3 1501L1468.6 1501L1468.9 1501L1469.2 1501L1469.5 1501L1469.9 1501L1470.2 1501L1470.5 1501L1473 1495.3L1475.5 1490.9L1478 1486.5L1480.5 1482.1L1483 1477.8L1485.5 1473.4L1488.3 1468.7L1491 1464L1493.8 1459.3L1496.6 1454.6L1499.3 1450L1502.1 1445.4L1504.8 1440.7L1507.6 1436.2L1510.3 1431.6L1513.1 1427L1515.8 1422.5L1518.6 1417.9L1521.3 1413.4L1524.1 1408.9L1526.9 1404.4L1529.6 1399.9L1532.4 1395.5L1535.1 1391L1537.9 1386.5L1540.6 1382.1L1543.4 1377.6L1546.1 1373.2L1548.9 1368.8L1551.7 1364.3L1554.4 1359.9L1557.2 1355.5L1559.9 1351L1562.7 1346.6L1565.4 1342.2L1568.2 1337.7L1570.9 1333.3L1573.7 1328.8L1576.5 1324.4L1579.2 1319.9L1582 1315.5L1584.7 1311L1587.5 1306.5L1590.2 1302L1593 1297.5L1595.7 1293L1598.5 1288.5L1601.3 1284L1604 1279.4L1606.8 1274.9L1609.5 1270.3L1612.3 1265.7L1615 1261.1L1617.8 1256.5L1620.5 1251.9L1623.3 1247.2L1626 1242.5L1626.3 1242.1L1628.6 1249.3L1630.8 1254.3L1633.1 1259.3L1635.3 1264.2L1637.6 1269L1639.8 1273.8L1642.1 1278.4L1644.3 1282.9L1646.8 1287.8L1649.3 1292.6L1651.8 1297.2L1654.3 1301.6L1657.1 1306.2L1659.9 1310.6L1662.9 1315.1L1665.9 1319.2L1669.1 1323.3L1672.6 1327.2L1676.4 1330.8L1680.4 1334L1684.9 1336.5L1689.6 1338.1L1694.7 1338.4L1699.7 1337.1L1704.2 1334.6L1708.2 1331.4L1711.7 1327.8L1714.9 1323.8L1717.9 1319.7L1720.7 1315.4L1723.4 1310.8L1726 1306.2L1728.5 1301.4L1730.7 1296.8L1733 1292L1735.2 1286.9L1737.2 1282.2L1739.2 1277.4L1741.2 1272.4L1743.2 1267.3L1745.2 1262L1747 1257.2L1748.7 1252.3L1750.5 1247.4L1752.2 1242.3L1754 1237.2L1755.7 1231.9L1757.5 1226.6L1759.3 1221.1L1761 1215.6L1762.5 1210.8L1764 1206L1765.5 1201.1L1767 1196.1L1768.5 1191.1L1770 1186.1L1771.5 1181L1773 1175.8L1774.5 1170.7L1776 1165.4L1777.5 1160.2L1779 1154.9L1780.5 1149.5L1782 1144.2L1783.5 1138.8L1785 1133.3L1786.5 1127.9L1788 1122.4L1789.5 1116.9L1790.3 1114.2 M1575.8 1116.3L1577.8 1120.9L1579.8 1125.8L1581.8 1130.8L1583.9 1136L1585.9 1141.2L1587.6 1145.9L1589.4 1150.7L1591.2 1155.5L1592.9 1160.3L1594.7 1165.1L1596.4 1169.9L1598.2 1174.7L1600 1179.5L1601.7 1184.2L1603.7 1189.5L1605.8 1194.7L1607.8 1199.7L1609.8 1204.6L1611.8 1209.3L1614.1 1214.4L1616.3 1219.1L1618.8 1224L1621.4 1228.5L1624.1 1232.8L1626.9 1236.5L1629.2 1231L1631.7 1226.5L1634.3 1222.2L1636.8 1217.9L1639.4 1213.3L1641.7 1208.8L1643.9 1203.8L1646 1198.7L1647.5 1194.5L1649.5 1196.4L1651.5 1201.4L1653.5 1206.4L1655.5 1211.5L1657.5 1216.6L1659.5 1221.8L1661.5 1227L1663.5 1232.2L1665.5 1237.3L1667.5 1242.5L1669.5 1247.6L1671.6 1252.7L1673.6 1257.7L1675.6 1262.7L1677.6 1267.5L1679.6 1272.3L1681.6 1276.9L1683.8 1282L1686.1 1286.9L1688.3 1291.7L1690.6 1296.2L1693.1 1301.1L1695.6 1305.7L1698.1 1310.1L1700.9 1314.7L1703.6 1319L1706.6 1323.3L1709.9 1327.5L1713.4 1331.6L1717.2 1335.3L1721.2 1338.6L1725.4 1341.3L1730.2 1343.2L1735.2 1343.9L1740.2 1343.4L1745 1341.6L1749.2 1338.9L1753.2 1335.4L1756.7 1331.6L1760 1327.5L1763 1323.3L1765.8 1319.1L1768.5 1314.6L1771 1310.1L1773.5 1305.5L1776 1300.6L1778.3 1296L1780.5 1291.3L1782.8 1286.4L1785.1 1281.4L1787.3 1276.3L1789.3 1271.6L1791.3 1266.8L1793.3 1262L1795.3 1257L1797.3 1252.1L1799.3 1247L1801.3 1241.9L1803.3 1236.8L1805.3 1231.6L1807.3 1226.4L1809.4 1221.2L1811.4 1216L1813.4 1210.7L1815.4 1205.5L1817.4 1200.3L1819.4 1195.1L1821.4 1189.9L1823.4 1184.7L1825.4 1179.6L1827.4 1174.5L1829.4 1169.5L1831.4 1164.6L1833.4 1159.7L1835.4 1154.9L1837.4 1150.1L1839.4 1145.5L1841.7 1140.4L1843.9 1135.4L1846.2 1130.6L1848.4 1125.9L1850.7 1121.4L1853.2 1116.6L1853.7 1115.6 M1624.5 1115.2L1625.5 1120.6L1626.8 1126.6L1628 1132L1629.6 1137.6L1631.1 1142.5L1632.8 1147.5L1634.9 1152.6L1636.9 1157.1L1639.2 1162.2L1641.2 1167L1643.2 1172.3L1645 1177.8L1646.5 1183.1L1647.5 1187.2L1652.3 1185.2L1655.8 1181.3L1658.6 1176.9L1661.1 1172.2L1663.3 1167.5L1665.6 1162.4L1667.6 1157.7L1669.6 1152.8L1671.6 1147.9L1673.7 1143.1L1675.7 1138.3L1677.9 1133.2L1680.2 1128.5L1682.7 1123.7L1685.5 1119.4L1688.5 1115.8 M1733 1115L1735.8 1119.3L1738.8 1123.6L1741.8 1127.7L1745.1 1132L1748.4 1136.1L1751.6 1140L1754.9 1143.9L1758.2 1147.8L1761.4 1151.7L1764.7 1155.8L1768 1159.9L1771 1164L1774 1167.7L1777 1171.8L1780 1175.9L1783 1180L1786 1184.1L1789 1188.2L1792 1192.3L1795 1196.3L1798 1200.4L1801.1 1204.4L1804.1 1208.5L1807.1 1212.5L1810.3 1216.8L1813.6 1221.1L1816.8 1225.4L1820.1 1229.6L1823.3 1233.9L1826.6 1238.1L1829.9 1242.3L1833.1 1246.4L1836.4 1250.6L1839.6 1254.6L1842.9 1258.7L1846.1 1262.7L1849.4 1266.7L1852.6 1270.6L1855.9 1274.5L1859.2 1278.4L1862.4 1282.2L1865.9 1286.3L1869.4 1290.3L1872.9 1294.3L1876.4 1298.2L1879.9 1302L1883.4 1305.8L1887 1309.5L1890.5 1313.1L1894 1316.7L1897.7 1320.5L1901.5 1324.2L1905.2 1327.8L1909 1331.3L1912.8 1334.7L1916.5 1338L1920.5 1341.5L1924.5 1344.8L1928.5 1348.1L1932.5 1351.2L1936.5 1354.2L1939.8 1356.6L1944.8 1355.1L1949.8 1355.3L1954.8 1356.4L1959.6 1358.2L1964.1 1360.7L1968.4 1363.6L1972.4 1366.9L1976.2 1370.3L1979.9 1374.1L1983.4 1377.9L1986.9 1382L1990.2 1386L1993.5 1390.2L1996.5 1394.3L1999.5 1398.4L2002.5 1402.7L2005.5 1407.1L2008.5 1411.6L2011.3 1415.7L2014 1420L2016.8 1424.2L2019.5 1428.5L2022.3 1432.9L2025.1 1437.2L2027.8 1441.5L2030.6 1445.9L2033.3 1450.2L2036.1 1454.5L2038.8 1458.7L2041.6 1462.9L2044.6 1467.4L2047.6 1471.8L2050.6 1476.1L2053.6 1480.2L2056.7 1484.3L2059.9 1488.5L2063.2 1492.5L2066.4 1496.4L2069.9 1500.2L2073.2 1503.6 M1174.1 1566.3L1178.1 1569.5L1181.9 1572.9L1185.6 1576.7L1189.1 1580.6L1192.4 1584.4L1195.6 1588.4L1198.9 1592.7L1201.9 1596.7L1204.9 1600.9L1207.9 1605.2L1210.9 1609.6L1213.9 1614L1216.9 1618.5L1219.9 1623.1L1222.9 1627.6L1225.9 1632.2L1228.9 1636.7L1231.9 1641.2L1234.9 1645.6L1237.9 1649.9L1240.9 1654.2L1244 1658.3L1247 1662.3L1250.2 1666.5L1253.5 1670.5L1256.7 1674.3L1260.2 1678.2L1263.7 1681.8L1267.5 1685.5L1271.2 1688.8L1275.2 1692L1279.5 1695.1L1284 1697.8L1288.5 1700.1L1293.3 1701.9L1298.3 1703.1L1303.3 1703.7L1308.3 1703.5L1313.3 1702.5L1318.1 1700.9L1322.6 1698.6L1326.8 1695.9L1330.8 1692.8L1334.8 1689.3L1338.6 1685.6L1342.1 1681.9L1345.6 1677.8L1348.9 1673.8L1352.1 1669.6L1355.1 1665.5L1358.1 1661.2L1361.1 1656.8L1364.1 1652.3L1366.9 1648.1L1369.6 1643.7L1372.4 1639.2L1375.1 1634.7L1377.9 1630.1L1380.6 1625.5L1383.4 1620.8L1386.2 1616L1388.7 1611.7L1391.2 1607.3L1393.7 1602.9L1396.2 1598.5L1398.7 1594.2L1401.2 1589.8L1403.7 1585.4L1406.2 1581.1L1408.9 1576.3L1411.7 1571.6L1414.4 1567L1415.2 1565.7L1415.5 1568.4L1415.8 1568.5L1416.1 1568.5L1416.4 1568.6L1416.8 1568.6L1417.1 1568.7L1417.4 1568.7L1417.7 1568.8L1418 1568.8L1418.3 1568.9L1418.6 1568.9L1418.9 1569L1419.2 1569L1419.5 1569.1L1419.9 1569.1L1420.2 1569.2L1420.5 1569.2L1420.8 1569.3L1421.1 1569.3L1424.4 1573.6L1427.4 1578L1430.1 1582.4L1432.9 1587.2L1435.4 1591.8L1437.9 1596.6L1440.1 1601.2L1442.4 1606L1444.6 1611.1L1446.7 1615.7L1448.7 1620.4L1450.7 1625.4L1452.7 1630.4L1454.7 1635.6L1456.7 1641L1458.4 1645.7L1460.2 1650.6L1461.9 1655.6L1463.7 1660.7L1465.4 1665.8L1467.2 1671.1L1468.9 1676.5L1470.7 1681.9L1472.5 1687.4L1474 1692.2L1475.5 1697.1L1477 1702L1478.5 1707L1480 1712L1481.5 1717.1L1483 1722.3L1484.5 1727.5L1486 1732.7L1487.5 1738L1489 1743.3L1490.5 1748.7L1492 1754.1L1493.5 1759.6L1495 1765.1L1496.5 1770.7L1498 1776.3L1499.5 1781.9L1501 1787.6L1502.5 1793.3L1504 1799L1505.5 1804.8L1507 1810.6L1508.3 1815.4L1509.5 1820.3L1510.8 1825.2L1512 1830.1L1513.3 1835L1514.5 1840L1515.8 1845L1517 1849.9L1518.3 1854.9L1519.5 1859.9L1520.8 1864.9L1522.1 1870L1523.3 1875L1524.6 1880L1525.8 1885.1L1527.1 1890.2L1528.3 1895.2L1529.6 1900.3L1530.8 1905.4L1532.1 1910.5L1533.3 1915.6L1534.6 1920.7L1535.8 1925.8L1537.1 1930.9L1538.3 1936L1539.6 1941.1L1540.8 1946.2L1542.1 1951.3L1543.3 1956.4L1544.6 1961.5L1545.6 1965.6 M1337 1966.2L1338.5 1960.7L1340 1955.2L1341.5 1949.6L1343 1944L1344.5 1938.2L1346 1932.4L1347.3 1927.6L1348.5 1922.7L1349.8 1917.7L1351 1912.8L1352.3 1907.8L1353.5 1902.8L1354.8 1897.8L1356 1892.8L1357.3 1887.8L1358.5 1882.8L1359.8 1877.8L1361 1872.8L1362.3 1867.8L1363.6 1862.8L1364.8 1857.8L1366.1 1852.9L1367.3 1848L1368.6 1843.1L1369.8 1838.2L1371.3 1832.4L1372.8 1826.7L1374.3 1821L1375.8 1815.4L1377.3 1809.9L1378.8 1804.5L1380.3 1799.1L1381.8 1793.9L1383.3 1788.7L1384.8 1783.6L1386.3 1778.5L1387.9 1773.5L1389.4 1768.6L1390.9 1763.7L1392.4 1758.8L1393.9 1754L1395.4 1749.3L1397.1 1743.7L1398.9 1738.2L1400.6 1732.7L1402.4 1727.3L1404.1 1721.8L1405.9 1716.4L1407.6 1710.9L1409.4 1705.4L1411.1 1699.9L1412.9 1694.3L1414.4 1689.5L1415.9 1684.7L1417.4 1679.8L1418.9 1675L1420.4 1670.1L1421.9 1665.2L1423.4 1660.4L1424.9 1655.6L1426.4 1650.8L1428.2 1645.2L1429.9 1639.7L1431.7 1634.3L1433.4 1629L1435.2 1623.8L1436.9 1618.8L1438.7 1613.8L1440.5 1609L1442.5 1603.7L1444.5 1598.7L1446.5 1593.9L1448.7 1588.8L1451 1584.1L1453.5 1579.3L1456.2 1574.7L1459.2 1570.5L1462 1567.4L1462.3 1567.5L1462.5 1567.5L1462.8 1567.5L1463.1 1567.5L1463.3 1567.5L1463.6 1567.5L1463.8 1567.5L1464.1 1567.5L1464.4 1567.5L1464.6 1567.5L1464.9 1567.5L1465.2 1567.5L1465.4 1567.5L1465.7 1567.5L1465.9 1567.5L1466.2 1567.5L1466.5 1567.5L1466.7 1567.5L1467 1567.5L1469.8 1571.9L1472.5 1576.5L1475.3 1581.2L1478 1585.9L1480.8 1590.6L1483.5 1595.2L1486.3 1599.9L1489.1 1604.6L1491.8 1609.2L1494.6 1613.9L1497.3 1618.4L1500.1 1623L1502.9 1627.5L1505.6 1631.9L1508.4 1636.2L1511.1 1640.5L1513.9 1644.7L1516.9 1649.2L1519.9 1653.6L1522.9 1657.9L1525.9 1662.1L1528.9 1666.3L1531.9 1670.5L1534.9 1674.7L1538 1678.8L1541 1683L1544 1687.3L1547 1691.6L1550 1695.9L1553 1700.3L1556 1704.7L1559 1709.2L1562 1713.7L1564.8 1717.9L1567.5 1722.1L1570.3 1726.3L1573.1 1730.6L1575.8 1734.9L1578.6 1739.3L1581.3 1743.6L1584.1 1748L1586.8 1752.5L1589.6 1756.9L1592.4 1761.4L1595.1 1766L1597.9 1770.5L1600.6 1775.1L1603.4 1779.7L1606.1 1784.3L1608.9 1788.8L1611.7 1793.3L1614.4 1797.7L1617.2 1802L1620.2 1806.5L1623.2 1810.7L1624.2 1812.1L1626.2 1805.5L1628.2 1800.6L1630.2 1795.9L1632.2 1791.2L1634.5 1786.1L1636.7 1781.2L1639 1776.4L1641.2 1771.7L1643.5 1767.2L1646 1762.4L1648.5 1757.8L1651 1753.5L1653.7 1748.9L1656.5 1744.6L1659.5 1740.3L1662.8 1736L1666 1732.2L1669.5 1728.6L1673.5 1725.1L1677.8 1722.2L1682.5 1720L1687.6 1718.9L1692.6 1719.2L1697.6 1720.7L1702.1 1723.1L1706.3 1726.3L1710.1 1729.8L1713.6 1733.6L1716.8 1737.5L1719.9 1741.6L1722.9 1746L1725.6 1750.4L1728.4 1755L1730.9 1759.4L1733.4 1764.1L1735.9 1768.9L1738.1 1773.4L1740.4 1778.1L1742.6 1783L1744.9 1788L1747.1 1793.1L1749.2 1797.7L1751.2 1802.5L1753.2 1807.3L1755.2 1812.2L1757.2 1817.1L1759.2 1822.1L1761.2 1827.2L1763.2 1832.2L1765.2 1837.4L1767.2 1842.5L1769.2 1847.7L1771.2 1852.9L1773.2 1858.1L1775.2 1863.2L1777.2 1868.4L1779.2 1873.6L1781.2 1878.7L1783.2 1883.8L1785.2 1888.8L1787.2 1893.8L1789.2 1898.8L1791.2 1903.8L1793.2 1908.9L1795.2 1914.1L1797 1918.8L1798.7 1923.7L1800.5 1928.8L1802.2 1934.1L1803.7 1938.9L1805.2 1943.9L1806.7 1949.1L1808.2 1954.6L1809.7 1960.4L1811 1965.5 M1615 1965.7L1616.3 1960.6L1617.5 1955.7L1618.8 1950.8L1620.3 1945.2L1621.8 1939.7L1623.3 1934.4L1624.8 1929.2L1626.3 1924.1L1627.8 1919.2L1629.3 1914.4L1631 1908.9L1632.8 1903.6L1634.5 1898.4L1636.3 1893.4L1638 1888.4L1639.8 1883.5L1641.5 1878.6L1643.3 1873.9L1645 1869.2L1646.8 1864.5L1648.8 1859.1L1650.8 1853.8L1652.6 1849.1L1654.3 1844.4L1656.1 1839.6L1657.8 1834.8L1659.6 1830L1661.3 1825.2L1663.1 1820.5L1664.8 1815.7L1666.6 1810.9L1668.3 1806.2L1670.3 1800.9L1672.3 1795.7L1674.3 1790.5L1676.3 1785.4L1678.3 1780.5L1680.3 1775.7L1682.3 1771L1684.6 1766L1686.9 1761.1L1689.1 1756.6L1691.6 1751.8L1694.1 1747.3L1696.9 1742.8L1699.9 1738.4L1703.1 1734.1L1706.6 1730.1L1710.4 1726.5L1714.6 1723.5L1719.2 1721.3L1724.2 1720.2L1729.2 1720.5L1733.9 1722.2L1738.4 1724.9L1742.4 1728.3L1745.9 1732.1L1749.2 1736.3L1752.2 1740.6L1755 1745.1L1757.5 1749.6L1760 1754.5L1762.2 1759.2L1764.5 1764.1L1766.7 1769.2L1768.7 1773.8L1770.7 1778.5L1772.7 1783.1L1774.7 1787.7L1777 1792.8L1779.2 1797.6L1781.5 1802.2L1784 1806.9L1785.5 1809.5L1787.8 1803.7L1790 1799.1L1792.5 1794.2L1795 1789.4L1797.5 1784.6L1800 1780L1802.5 1775.6L1805 1771.2L1807.8 1766.5L1810.5 1762L1813.3 1757.6L1816.1 1753.4L1819.1 1748.9L1822.1 1744.6L1825.1 1740.5L1828.3 1736.2L1831.6 1732.1L1834.8 1728.3L1838.4 1724.3L1841.9 1720.6L1845.6 1716.8L1849.4 1713.3L1853.4 1709.9L1857.4 1706.7L1861.6 1703.7L1865.9 1701L1870.4 1698.6L1875.2 1696.3L1879.9 1694.6L1884.9 1693.1L1890 1692.2L1895 1691.6L1900 1691.6L1905 1692L1910 1692.9L1915 1694.2L1919.8 1695.9L1924.5 1698L1929 1700.3L1933.5 1703.1L1937.8 1706L1939.8 1707.5L1944.6 1707.3L1949.6 1707.9L1954.6 1707.4L1959.6 1706L1964.4 1703.7L1968.6 1701.1L1972.6 1698L1976.7 1694.5L1980.4 1690.8L1983.9 1687.1L1987.4 1683L1990.7 1679L1994 1674.8L1997 1670.8L2000 1666.6L2003 1662.3L2006 1657.8L2009 1653.3L2011.8 1649.1L2014.5 1644.8L2017.3 1640.5L2020 1636.2L2022.8 1631.9L2025.6 1627.5L2028.3 1623.2L2031.1 1619L2033.8 1614.8L2036.8 1610.2L2039.8 1605.8L2042.9 1601.5L2045.9 1597.3L2048.9 1593.3L2052.1 1589.1L2055.4 1585.1L2058.9 1581.1L2062.4 1577.5L2066.2 1573.9L2070.2 1570.6L2073.2 1568.5 M1565 1965.1L1567 1959.8L1569 1954.5L1571 1949.2L1573.1 1943.8L1574.8 1939.2L1576.6 1934.5L1578.6 1929.1L1580.6 1923.8L1582.6 1918.5L1584.6 1913.2L1586.6 1908L1588.7 1902.7L1590.7 1897.6L1592.7 1892.4L1594.7 1887.4L1596.7 1882.4L1598.7 1877.4L1600.7 1872.6L1602.7 1867.8L1604.8 1863.1L1606.8 1858.5L1609 1853.5L1611.3 1848.5L1613.6 1843.8L1615.8 1839.1L1618.4 1834.2L1620.9 1829.5L1623.4 1825L1625.9 1820.7L1628.4 1825.2L1630.9 1830L1633.2 1834.5L1635.4 1839L1637.7 1843.5L1640.2 1848.4L1642.7 1853.2L1645.2 1857.7L1647.9 1862.4L1650.7 1866.9L1653.5 1871.4L1656 1875.7L1658.5 1880.3L1661 1885.1L1663.2 1889.6L1665.5 1894.2L1667.7 1898.9L1670 1903.6L1672.2 1908.3L1674.5 1913L1676.7 1917.7L1679 1922.2L1681.5 1927.1L1684 1931.8L1686.5 1936.3L1689.3 1940.9L1692 1945.1L1695 1949.1L1698.5 1953L1702.5 1956.2L1707.3 1958.1L1712.3 1957.5L1716.6 1954.9L1720.3 1951.1L1723.6 1946.9L1726.3 1942.7L1729.1 1938L1731.6 1933.3L1733.9 1928.8L1736.1 1924L1738.4 1919L1740.4 1914.5L1742.4 1909.7L1744.4 1904.9L1746.4 1900L1748.4 1895L1750.4 1890L1752.4 1884.9L1754.4 1879.9L1756.4 1874.9L1758.4 1869.9L1760.4 1865L1762.4 1860.2L1764.4 1855.4L1766.4 1850.8L1768.7 1845.8L1770.9 1841.1L1773.2 1836.5L1775.7 1831.8L1778.4 1827.1L1781.2 1822.9L1784.2 1819L1786.5 1824.3L1788.5 1829L1790.5 1833.7L1792.5 1838.5L1794.5 1843.5L1796.5 1848.5L1798.5 1853.7L1800.5 1859L1802.3 1863.7L1804.1 1868.4L1805.8 1873.3L1807.6 1878.2L1809.3 1883.3L1811.1 1888.3L1812.9 1893.5L1814.6 1898.8L1816.4 1904.1L1818.1 1909.5L1819.9 1914.9L1821.7 1920.5L1823.2 1925.3L1824.7 1930.1L1826.2 1935L1827.7 1940L1829.2 1945L1830.7 1950.1L1832.2 1955.2L1833.7 1960.3L1835.2 1965.5L1835.5 1966.4 M1174.1 1503.5L1178.1 1506.8L1182.1 1509.9L1186.4 1512.9L1190.7 1515.8L1195 1518.4L1199.5 1521.1L1204 1523.5L1208.5 1525.8L1213.3 1527.9L1218.1 1530L1222.9 1531.8L1227.7 1533.5L1232.4 1535L1237.5 1536.5L1242.5 1537.9L1247.5 1539.1L1252.5 1540.3L1254.3 1540.6 M1174.1 1568.4L1178.4 1565.4L1182.6 1562.7L1187.2 1560.2L1191.7 1558L1196.5 1555.9L1201.3 1554.1L1206 1552.5L1211.1 1551L1216.1 1549.7L1221.1 1548.5L1226.1 1547.3L1231.2 1546.2L1236.2 1545.2L1241.2 1544L1246.3 1542.8L1251.3 1541.4L1254.3 1540.5 M1254.3 1540.6L1259.3 1539.6L1264.3 1538.8L1269.4 1538.1L1274.4 1537.6L1279.4 1537.1L1284.4 1536.7L1289.5 1536.4L1294.5 1536.3L1299.5 1536.2L1304.5 1536.2L1309.5 1536.3L1314.6 1536.4L1319.6 1536.7L1324.6 1537L1329.6 1537.4L1334.7 1537.8L1339.7 1538.3L1344.7 1538.9L1349.7 1539.5L1354.5 1540.2 M1254.3 1540.6L1259.3 1541.3L1264.3 1542L1269.4 1542.6L1274.4 1543.1L1279.4 1543.6L1284.4 1544.1L1289.5 1544.4L1294.5 1544.7L1299.5 1544.9L1304.5 1545L1309.5 1545L1314.6 1545L1319.6 1544.8L1324.6 1544.5L1329.6 1544.1L1334.7 1543.6L1339.7 1542.9L1344.7 1542.2L1349.7 1541.2L1354.5 1540.3 M1354.5 1540.2L1359.5 1538.7L1364.5 1537.2L1369.3 1535.7L1374.1 1534L1378.9 1532.2L1383.6 1530.2L1388.4 1528L1392.9 1525.7L1397.4 1523L1401.7 1520.3L1406 1517.2L1410 1514L1414 1510.5L1414.5 1510L1414.8 1510L1415.1 1510L1415.4 1510L1415.7 1510L1415.9 1510L1416.2 1510L1416.5 1510L1416.8 1510L1417.1 1510L1417.4 1510L1417.7 1510L1418 1510L1418.3 1510L1418.6 1510L1418.8 1510L1419.1 1510L1419.4 1510L1419.7 1510L1420 1510L1423.8 1513.5L1427.2 1517.4L1430.2 1521.5L1433.3 1525.7L1436.3 1529.8L1439.7 1533.8L1441.2 1535.4L1444.7 1531.5L1448 1527.6L1451.3 1523.5L1454.6 1519.3L1457.9 1515.3L1461.2 1511.5L1464.5 1508L1464.8 1508L1465.1 1508L1465.4 1508L1465.7 1508L1465.9 1508L1466.2 1508L1466.5 1508L1466.8 1508L1467.1 1508L1467.4 1508L1467.7 1508L1468 1508L1468.3 1508L1468.6 1508L1468.8 1508L1469.1 1508L1469.4 1508L1469.7 1508L1470 1508L1473.5 1512.2L1477.3 1515.9L1481.3 1519.4L1485.3 1522.4L1489.6 1525.3L1494.1 1527.8L1498.6 1530L1503.4 1531.9L1508.2 1533.4L1513.2 1534.7L1518.2 1535.7L1523.3 1536.6L1528.3 1537.2L1533.3 1537.8L1538.3 1538.3L1543.4 1538.8L1548.4 1539.3L1553.4 1540L1558.4 1540.8L1558.7 1540.8L1563.7 1540.2L1568.7 1540.1L1573.7 1539.8L1578.7 1539.3L1583.7 1538.7L1588.7 1537.9L1593.7 1536.9L1598.7 1535.8L1603.7 1534.6L1608.7 1533.3L1613.7 1531.9L1618.7 1530.4L1623.8 1528.8L1628.8 1527.2L1633.5 1525.6L1638.3 1524L1643 1522.4L1647.8 1520.7L1652.5 1519.1L1657.3 1517.5L1662 1515.9L1666.8 1514.3L1671.8 1512.7L1676.8 1511.2L1681.8 1509.8L1686.8 1508.5L1691.8 1507.5L1696.8 1506.6L1701.8 1506L1706.8 1505.7L1711.8 1505.7L1716.8 1506.1L1721.8 1506.7L1726.8 1507.6L1731.8 1508.7L1736.8 1509.9L1741.8 1511.3L1746.8 1512.8L1751.9 1514.3L1756.9 1515.7L1761.9 1517.1L1766.9 1518.4L1771.9 1519.6L1776.9 1520.7L1781.9 1521.7L1786.9 1522.6L1791.9 1523.4L1796.9 1524.1L1801.9 1524.7L1806.9 1525.3L1811.9 1525.8L1816.9 1526.2L1821.9 1526.6L1826.9 1527L1831.9 1527.3L1836.9 1527.7L1841.9 1528.1L1846.9 1528.5L1851.9 1528.9L1856.9 1529.3L1861.9 1529.8L1866.9 1530.2L1871.9 1530.7L1877 1531.1L1882 1531.6L1887 1532L1892 1532.5L1897 1532.9L1902 1533.4L1907 1533.8L1912 1534.2L1917 1534.6L1922 1535L1927 1535.4L1932 1535.8L1937 1536.1L1940 1536.3L1942.9 1536.4L1945.8 1536.6L1948.6 1536.7L1951.5 1536.8L1954.4 1537L1957.3 1537.1L1960.2 1537.2L1963 1537.5L1965.9 1537.8L1968.8 1538.1L1971.7 1538.5L1974.5 1538.8L1977.4 1539.2L1980.3 1539.5L1983.2 1539.8L1986.1 1540.2L1988.9 1540.5L1991.8 1540.9L1994.7 1541.2L1999.7 1540.1L2004.8 1538.9L2009.8 1537.6L2014.8 1536.1L2019.6 1534.5L2024.4 1532.7L2029.2 1530.8L2033.9 1528.7L2038.5 1526.5L2043 1524.2L2047.5 1521.7L2052.1 1518.9L2056.3 1516.2L2060.6 1513.2L2064.9 1510.1L2068.9 1506.9L2072.9 1503.6L2073.2 1503.4 M1354.5 1540.2L1359.5 1541.4L1364.5 1542.7L1369.6 1544.1L1374.6 1545.6L1379.6 1547.1L1384.4 1548.7L1389.1 1550.4L1393.9 1552.2L1398.7 1554.2L1403.5 1556.3L1408.2 1558.5L1412.7 1560.8L1415.5 1562.2L1420.1 1559.5L1424.2 1556.2L1427.7 1552.6L1431 1548.8L1434.3 1544.7L1437.4 1540.7L1440.4 1536.5L1441.2 1535.4L1444.5 1539.4L1447.8 1543.7L1450.8 1547.8L1454.1 1552L1457.3 1555.9L1460.9 1559.5L1464.9 1562.5L1469.2 1564L1473.5 1561.1L1478 1558.6L1482.5 1556.5L1487.3 1554.5L1492 1552.8L1497 1551.3L1502 1550L1507.1 1548.9L1512.1 1547.9L1517.1 1547.1L1522.1 1546.4L1527.1 1545.8L1532.1 1545.1L1537.1 1544.5L1542.2 1543.7L1547.2 1542.9L1552.2 1542L1557.2 1540.8L1558.7 1540.4L1563.7 1541.1L1568.7 1541.4L1573.7 1541.8L1578.7 1542.4L1583.7 1543L1588.7 1543.7L1593.7 1544.5L1598.7 1545.4L1603.7 1546.3L1608.7 1547.3L1613.7 1548.4L1618.7 1549.5L1623.8 1550.6L1628.8 1551.8L1633.8 1553L1638.8 1554.2L1643.8 1555.4L1648.8 1556.7L1653.8 1557.9L1658.8 1559.1L1663.8 1560.2L1668.8 1561.4L1673.8 1562.5L1678.8 1563.5L1683.8 1564.4L1688.8 1565.2L1693.8 1565.9L1698.8 1566.3L1703.8 1566.6L1708.8 1566.6L1713.8 1566.4L1718.8 1565.9L1723.8 1565.1L1728.8 1564L1733.8 1562.5L1738.6 1560.8L1743.3 1559L1748.1 1557.1L1752.9 1555.2L1757.6 1553.3L1762.4 1551.6L1767.1 1550L1772.1 1548.5L1777.1 1547.2L1782.1 1546L1787.1 1545L1792.1 1544.2L1797.1 1543.5L1802.1 1543L1807.1 1542.6L1812.1 1542.3L1817.2 1542.1L1822.2 1542L1827.2 1542L1832.2 1542L1837.2 1542L1842.2 1542L1847.2 1542.1L1852.2 1542.1L1857.2 1542.1L1862.2 1542.2L1867.2 1542.3L1872.2 1542.3L1877.2 1542.4L1882.2 1542.5L1887.2 1542.6L1892.2 1542.8L1897.2 1542.9L1902.2 1543.1L1907.2 1543.3L1912.2 1543.5L1917.2 1543.7L1922.2 1544L1927.2 1544.2L1932.2 1544.5L1937.2 1544.9L1940 1545.1L1942.9 1544.8L1945.8 1544.7L1948.6 1544.5L1951.5 1544.3L1954.4 1544.1L1957.3 1544L1960.2 1543.8L1963 1543.6L1965.9 1543.4L1968.8 1543.3L1971.7 1543.1L1974.5 1542.8L1977.4 1542.6L1980.3 1542.4L1983.2 1542.1L1986.1 1541.9L1988.9 1541.7L1991.8 1541.4L1994.7 1541.2L1999.7 1541.6L2004.8 1542.3L2009.8 1543.3L2014.8 1544.5L2019.9 1546L2024.6 1547.6L2029.4 1549.3L2034.2 1551.2L2039 1553.2L2043.8 1555.3L2048.5 1557.5L2053.1 1559.6L2057.6 1561.8L2062.1 1564L2066.7 1566.2L2071.2 1568.3L2073.2 1569.3" fill="none" stroke="#4a9a22" stroke-width="4.2" stroke-linejoin="round" stroke-linecap="round" clip-path="url(#clipd)"/>
<rect x="1174.3" y="1119.6" width="899" height="844.6" fill="none" stroke="#111" stroke-width="1.5"/>
<path d="M1174.3 1929.1h6M2073.3 1929.1h-6M1174.3 1893.8h11M2073.3 1893.8h-11M1174.3 1858.6h6M2073.3 1858.6h-6M1174.3 1823.3h6M2073.3 1823.3h-6M1174.3 1788.1h6M2073.3 1788.1h-6M1174.3 1752.8h6M2073.3 1752.8h-6M1174.3 1717.6h11M2073.3 1717.6h-11M1174.3 1682.3h6M2073.3 1682.3h-6M1174.3 1647.1h6M2073.3 1647.1h-6M1174.3 1611.8h6M2073.3 1611.8h-6M1174.3 1576.6h6M2073.3 1576.6h-6M1174.3 1541.3h11M2073.3 1541.3h-11M1174.3 1506h6M2073.3 1506h-6M1174.3 1470.8h6M2073.3 1470.8h-6M1174.3 1435.5h6M2073.3 1435.5h-6M1174.3 1400.3h6M2073.3 1400.3h-6M1174.3 1365h11M2073.3 1365h-11M1174.3 1329.8h6M2073.3 1329.8h-6M1174.3 1294.5h6M2073.3 1294.5h-6M1174.3 1259.3h6M2073.3 1259.3h-6M1174.3 1224h6M2073.3 1224h-6M1174.3 1188.8h11M2073.3 1188.8h-11M1174.3 1153.5h6M2073.3 1153.5h-6M1441.4 1119.6v11M1441.4 1964.2v-11M1708.4 1119.6v11M1708.4 1964.2v-11M1939.8 1119.6v11M1939.8 1964.2v-11" stroke="#111" stroke-width="1.5" fill="none"/>
<text class="tl" x="1151.8" y="1203" text-anchor="end">100</text>
<text class="tl" x="1151.8" y="1379.3" text-anchor="end">50</text>
<text class="tl" x="1151.8" y="1555.6" text-anchor="end">0</text>
<text class="tl" x="1151.8" y="1731.9" text-anchor="end">-50</text>
<text class="tl" x="1151.8" y="1908.1" text-anchor="end">-100</text>
<text class="tl" transform="translate(1096.8 1541.3) rotate(-90)" text-anchor="middle"><tspan font-style="italic">E</tspan> (meV)</text>
<text class="xl" x="1153.1" y="2016.9">K'<tspan font-size="33" dy="9" dx="-7.4">s</tspan></text>
<text class="xl" x="1420.2" y="2016.9">K<tspan font-size="33" dy="9" dx="-1">s</tspan></text>
<text class="xl" x="1689.2" y="2016.9">Γ<tspan font-size="33" dy="9" dx="0">s</tspan></text>
<text class="xl" x="1915.2" y="2016.9">M<tspan font-size="33" dy="9" dx="0">s</tspan></text>
<text class="xl" x="2052.1" y="2016.9">K'<tspan font-size="33" dy="9" dx="-7.4">s</tspan></text>
<text class="pl" x="1112.3" y="1110.6">d</text>
<text class="tt" x="1623.8" y="1085.8" text-anchor="middle"><tspan font-style="italic">θ</tspan><tspan font-style="italic" font-size="36" dy="10.7">5L</tspan><tspan dy="-10.7"> = 1.84°  </tspan><tspan font-style="italic">D</tspan>/ε<tspan font-size="36" dy="10.7">0</tspan><tspan dy="-10.7"> = 0.5 V/nm</tspan></text>
</g>
</svg>
</body></html>
